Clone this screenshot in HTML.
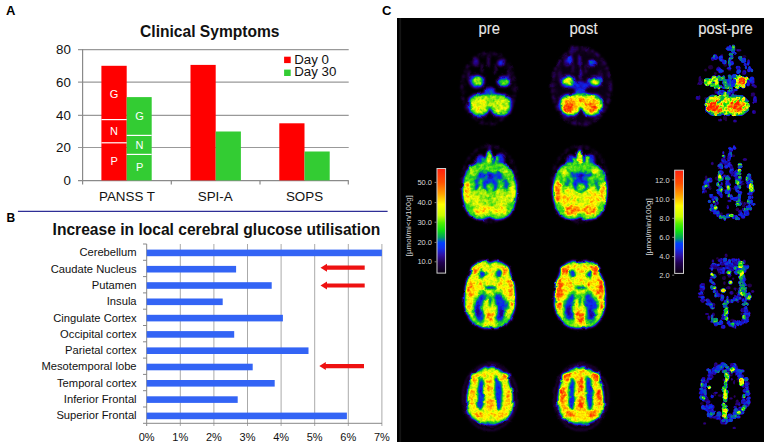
<!DOCTYPE html>
<html><head><meta charset="utf-8">
<style>
html,body{margin:0;padding:0;background:#fff;}
body{width:767px;height:445px;overflow:hidden;position:relative;}
svg{display:block;position:absolute;left:0;top:0;}
text{font-family:"Liberation Sans",Arial,sans-serif;}
</style></head><body>
<svg width="767" height="445" viewBox="0 0 767 445">
<rect x="0" y="0" width="767" height="445" fill="#fff"/>
<!-- ============ PANEL A ============ -->
<g id="panelA">
<text x="6" y="15.2" font-size="13" font-weight="bold" fill="#000">A</text>
<text x="209.8" y="36.6" font-size="15.6" font-weight="bold" fill="#111" text-anchor="middle">Clinical Symptoms</text>
<g stroke="#999" stroke-width="1.2">
<line x1="78" y1="49.6" x2="348.7" y2="49.6"/>
<line x1="78" y1="82.2" x2="348.7" y2="82.2"/>
<line x1="78" y1="115.3" x2="348.7" y2="115.3"/>
<line x1="78" y1="147.5" x2="348.7" y2="147.5"/>
</g>
<g stroke="#8a8a8a" stroke-width="1.2">
<line x1="78" y1="180.6" x2="348.7" y2="180.6"/>
<line x1="82.6" y1="49" x2="82.6" y2="184.5"/>
<line x1="171.3" y1="180.6" x2="171.3" y2="184.5"/>
<line x1="260" y1="180.6" x2="260" y2="184.5"/>
<line x1="348.3" y1="180.6" x2="348.3" y2="184.5"/>
</g>
<g font-size="13.3" fill="#111" text-anchor="end">
<text x="70.8" y="54.2">80</text>
<text x="70.8" y="87">60</text>
<text x="70.8" y="119.8">40</text>
<text x="70.8" y="152">20</text>
<text x="70.8" y="184.8">0</text>
</g>
<!-- bars -->
<rect x="101.4" y="65.8" width="25.3" height="114.6" fill="#ff0000"/>
<rect x="126.7" y="97.1" width="25" height="83.3" fill="#33cc33"/>
<rect x="190.5" y="64.9" width="25.2" height="115.5" fill="#ff0000"/>
<rect x="215.7" y="131.5" width="25.2" height="48.9" fill="#33cc33"/>
<rect x="279.3" y="123.3" width="25.2" height="57.1" fill="#ff0000"/>
<rect x="304.5" y="151.5" width="25.2" height="28.9" fill="#33cc33"/>
<g stroke="#fff" stroke-width="1.2">
<line x1="101.4" y1="119.6" x2="126.7" y2="119.6"/>
<line x1="101.4" y1="142.8" x2="126.7" y2="142.8"/>
<line x1="126.7" y1="135.4" x2="151.7" y2="135.4"/>
<line x1="126.7" y1="154.4" x2="151.7" y2="154.4"/>
</g>
<g font-size="11" fill="#fff" text-anchor="middle">
<text x="114.1" y="98.3">G</text>
<text x="114.1" y="135">N</text>
<text x="114.1" y="165.3">P</text>
<text x="139.6" y="120.4">G</text>
<text x="139.6" y="148.7">N</text>
<text x="139.6" y="171.2">P</text>
</g>
<!-- legend -->
<rect x="284.1" y="56.7" width="6.6" height="6.4" fill="#ff0000"/>
<rect x="284.1" y="69.6" width="6.6" height="6.4" fill="#33cc33"/>
<g font-size="13.3" fill="#111">
<text x="294.2" y="63.6">Day 0</text>
<text x="294.2" y="76.3">Day 30</text>
</g>
<g font-size="13.4" fill="#111" text-anchor="middle">
<text x="127" y="201">PANSS T</text>
<text x="215.2" y="201">SPI-A</text>
<text x="304.5" y="201">SOPS</text>
</g>
</g>
<!-- ============ PANEL B ============ -->
<g id="panelB">
<line x1="17.9" y1="211.3" x2="387.6" y2="211.3" stroke="#2e2e96" stroke-width="1.2"/>
<text x="6.6" y="222.3" font-size="12" font-weight="bold" fill="#000">B</text>
<text x="216.4" y="234.6" font-size="15.6" font-weight="bold" fill="#111" text-anchor="middle">Increase in local cerebral glucose utilisation</text>
<g stroke="#aaa" stroke-width="1">
<line x1="180.3" y1="244" x2="180.3" y2="426"/>
<line x1="213.9" y1="244" x2="213.9" y2="426"/>
<line x1="247.5" y1="244" x2="247.5" y2="426"/>
<line x1="281.1" y1="244" x2="281.1" y2="426"/>
<line x1="314.7" y1="244" x2="314.7" y2="426"/>
<line x1="348.3" y1="244" x2="348.3" y2="426"/>
<line x1="381.9" y1="244" x2="381.9" y2="426"/>
</g>
<g stroke="#888" stroke-width="1">
<line x1="146.7" y1="244" x2="146.7" y2="426"/>
<line x1="146.7" y1="423.3" x2="382" y2="423.3"/>
<line x1="143" y1="244" x2="146.7" y2="244"/>
<line x1="143" y1="260.3" x2="146.7" y2="260.3"/>
<line x1="143" y1="276.6" x2="146.7" y2="276.6"/>
<line x1="143" y1="292.9" x2="146.7" y2="292.9"/>
<line x1="143" y1="309.2" x2="146.7" y2="309.2"/>
<line x1="143" y1="325.5" x2="146.7" y2="325.5"/>
<line x1="143" y1="341.8" x2="146.7" y2="341.8"/>
<line x1="143" y1="358.1" x2="146.7" y2="358.1"/>
<line x1="143" y1="374.4" x2="146.7" y2="374.4"/>
<line x1="143" y1="390.7" x2="146.7" y2="390.7"/>
<line x1="143" y1="407" x2="146.7" y2="407"/>
<line x1="143" y1="423.3" x2="146.7" y2="423.3"/>
</g>
<g fill="#3364f5">
<rect x="146.7" y="249.6" width="235.2" height="6.6"/>
<rect x="146.7" y="265.9" width="89.4" height="6.6"/>
<rect x="146.7" y="282.2" width="125" height="6.6"/>
<rect x="146.7" y="298.5" width="76" height="6.6"/>
<rect x="146.7" y="314.8" width="136.2" height="6.6"/>
<rect x="146.7" y="331.1" width="87.5" height="6.6"/>
<rect x="146.7" y="347.4" width="161.8" height="6.6"/>
<rect x="146.7" y="363.7" width="106" height="6.6"/>
<rect x="146.7" y="380" width="128" height="6.6"/>
<rect x="146.7" y="396.3" width="91" height="6.6"/>
<rect x="146.7" y="412.6" width="200.2" height="6.6"/>
</g>
<g font-size="11.2" fill="#111" text-anchor="end">
<text x="136.6" y="256.3">Cerebellum</text>
<text x="136.6" y="272.6">Caudate Nucleus</text>
<text x="136.6" y="288.9">Putamen</text>
<text x="136.6" y="305.2">Insula</text>
<text x="136.6" y="321.5">Cingulate Cortex</text>
<text x="136.6" y="337.8">Occipital cortex</text>
<text x="136.6" y="354.1">Parietal cortex</text>
<text x="136.6" y="370.4">Mesotemporal lobe</text>
<text x="136.6" y="386.7">Temporal cortex</text>
<text x="136.6" y="403.0">Inferior Frontal</text>
<text x="136.6" y="419.3">Superior Frontal</text>
</g>
<g font-size="11" fill="#111" text-anchor="middle">
<text x="146.7" y="441">0%</text>
<text x="180.3" y="441">1%</text>
<text x="213.9" y="441">2%</text>
<text x="247.5" y="441">3%</text>
<text x="281.1" y="441">4%</text>
<text x="314.7" y="441">5%</text>
<text x="348.3" y="441">6%</text>
<text x="381.9" y="441">7%</text>
</g>
<g fill="#ee1111">
<path d="M320.5,267.7 L327,263.7 L327,265.6 L364.7,265.6 L364.7,269.8 L327,269.8 L327,271.7 Z"/>
<path d="M320.5,285.5 L327,281.5 L327,283.4 L364.7,283.4 L364.7,287.6 L327,287.6 L327,289.5 Z"/>
<path d="M319.3,366.1 L325.8,362.1 L325.8,364 L364,364 L364,368.2 L325.8,368.2 L325.8,370.1 Z"/>
</g>
</g>
<!-- ============ PANEL C ============ -->
<g id="panelC">
<text x="382" y="15.2" font-size="13" font-weight="bold" fill="#000">C</text>
<rect x="397" y="18" width="367" height="424" fill="#000"/>
<rect x="399.3" y="18" width="1.8" height="424" fill="#141414"/>
</g>
<defs><filter id="pet" filterUnits="userSpaceOnUse" x="452" y="18" width="178" height="424" color-interpolation-filters="sRGB">
  <feGaussianBlur in="SourceGraphic" stdDeviation="0.95" result="b0"/>
  <feTurbulence type="fractalNoise" baseFrequency="0.12" numOctaves="2" seed="4" result="d"/>
  <feDisplacementMap in="b0" in2="d" scale="3" xChannelSelector="R" yChannelSelector="G" result="b"/>
  <feTurbulence type="fractalNoise" baseFrequency="0.3" numOctaves="2" seed="7" result="t"/>
  <feColorMatrix in="t" type="matrix" values="1 0 0 0 0  1 0 0 0 0  1 0 0 0 0  0 0 0 0 1" result="n"/>
  
  <feComposite in="b" in2="n" operator="arithmetic" k1="0.5" k2="0.75" k3="0" k4="0" result="m"/>
  <feComponentTransfer in="m">
    <feFuncR type="table" tableValues="0 0.12 0.15 0.05 0.0 0.15 0.65 1 1 1 1"/>
    <feFuncG type="table" tableValues="0 0 0 0.15 0.55 0.85 0.93 1 0.65 0.3 0.1"/>
    <feFuncB type="table" tableValues="0 0.22 0.55 0.95 0.45 0.1 0.05 0 0 0 0"/>
  </feComponentTransfer>
</filter><filter id="pet2" filterUnits="userSpaceOnUse" x="690" y="18" width="74" height="424" color-interpolation-filters="sRGB">
  <feGaussianBlur in="SourceGraphic" stdDeviation="0.6" result="b0"/>
  <feTurbulence type="fractalNoise" baseFrequency="0.12" numOctaves="2" seed="4" result="d"/>
  <feDisplacementMap in="b0" in2="d" scale="2" xChannelSelector="R" yChannelSelector="G" result="b"/>
  <feTurbulence type="fractalNoise" baseFrequency="0.33" numOctaves="2" seed="11" result="t"/>
  <feColorMatrix in="t" type="matrix" values="1 0 0 0 0  1 0 0 0 0  1 0 0 0 0  0 0 0 0 1" result="n0"/>
  <feComponentTransfer in="n0" result="n"><feFuncR type="linear" slope="2.0" intercept="-0.5"/></feComponentTransfer>
  <feComposite in="b" in2="n" operator="arithmetic" k1="0.7" k2="0.65" k3="0" k4="0" result="m"/>
  <feComponentTransfer in="m">
    <feFuncR type="table" tableValues="0 0.12 0.15 0.05 0.0 0.15 0.65 1 1 1 1"/>
    <feFuncG type="table" tableValues="0 0 0 0.15 0.55 0.85 0.93 1 0.65 0.3 0.1"/>
    <feFuncB type="table" tableValues="0 0.22 0.55 0.95 0.45 0.1 0.05 0 0 0 0"/>
  </feComponentTransfer>
</filter></defs>
<g filter="url(#pet)">
<rect x="440" y="0" width="200" height="445" fill="#000"/>
<ellipse cx="488.5" cy="88.5" rx="26.5" ry="35.5" fill="none" stroke="#212121" stroke-width="2.6" stroke-dasharray="4 2.5 2 2 5 3 1.5 1.5"/>
<ellipse cx="488.5" cy="88.5" rx="23.5" ry="32.5" fill="none" stroke="#1a1a1a" stroke-width="1.2" stroke-dasharray="2 5 3 4 1 6"/>
<ellipse cx="476.0" cy="62" rx="3" ry="4.5" fill="#333333"/>
<ellipse cx="501.0" cy="63" rx="4" ry="3.5" fill="#454545"/>
<ellipse cx="488.5" cy="61" rx="1.5" ry="7" fill="#292929"/>
<ellipse cx="469.0" cy="76" rx="2" ry="6" fill="#212121"/>
<ellipse cx="509.0" cy="76" rx="2" ry="6" fill="#212121"/>
<ellipse cx="482.0" cy="68" rx="1.2" ry="5" fill="#262626"/>
<ellipse cx="495.0" cy="69" rx="1.2" ry="5" fill="#262626"/>
<ellipse cx="477.0" cy="81.5" rx="8" ry="7" fill="#4c4c4c"/>
<ellipse cx="504.0" cy="81.5" rx="7.5" ry="6" fill="#4c4c4c"/>
<ellipse cx="477.5" cy="81" rx="5" ry="4.2" fill="#999999"/>
<ellipse cx="504.0" cy="82" rx="4.5" ry="3.2" fill="#8c8c8c"/>
<ellipse cx="489.5" cy="90.5" rx="5.5" ry="3.5" fill="#4c4c4c"/>
<path d="M471.50,95.50 C475.67,92.60 474.33,94.47 480.50,93.30 C486.67,92.13 483.67,92.00 490.00,92.00 C496.33,92.00 493.33,92.13 499.50,93.30 C505.67,94.47 504.33,92.60 508.50,95.50 C512.67,98.40 511.00,97.33 512.00,102.00 C513.00,106.67 513.00,105.17 511.50,109.50 C510.00,113.83 511.50,112.57 507.50,115.00 C503.50,117.43 504.33,116.97 499.50,116.80 C494.67,116.63 496.17,116.77 493.00,114.50 C489.83,112.23 492.00,110.00 490.00,110.00 C488.00,110.00 490.17,112.23 487.00,114.50 C483.83,116.77 485.33,116.63 480.50,116.80 C475.67,116.97 476.50,117.43 472.50,115.00 C468.50,112.57 470.00,113.83 468.50,109.50 C467.00,105.17 467.00,106.67 468.00,102.00 C469.00,97.33 467.33,98.40 471.50,95.50 Z" fill="#525252"/>
<path d="M473.50,97.50 C477.00,95.17 475.50,96.50 481.00,95.50 C486.50,94.50 484.00,94.50 490.00,94.50 C496.00,94.50 493.50,94.50 499.00,95.50 C504.50,96.50 503.00,95.17 506.50,97.50 C510.00,99.83 508.63,98.67 509.50,102.50 C510.37,106.33 510.27,105.50 509.10,109.00 C507.93,112.50 509.20,111.17 506.00,113.00 C502.80,114.83 503.50,114.67 499.50,114.50 C495.50,114.33 497.17,114.83 494.00,112.50 C490.83,110.17 492.67,107.50 490.00,107.50 C487.33,107.50 489.17,110.17 486.00,112.50 C482.83,114.83 484.50,114.33 480.50,114.50 C476.50,114.67 477.20,114.83 474.00,113.00 C470.80,111.17 472.07,112.50 470.90,109.00 C469.73,105.50 469.63,106.33 470.50,102.50 C471.37,98.67 470.00,99.83 473.50,97.50 Z" fill="#999999"/>
<ellipse cx="478.5" cy="105.5" rx="7" ry="7" fill="#a8a8a8"/>
<ellipse cx="476.0" cy="107" rx="3.5" ry="4" fill="#adadad"/>
<ellipse cx="501.0" cy="106" rx="6" ry="6" fill="#a1a1a1"/>
<ellipse cx="490.0" cy="97.5" rx="3" ry="2.5" fill="#8c8c8c"/>
<ellipse cx="490.0" cy="96" rx="2" ry="1.5" fill="#808080"/>
<ellipse cx="581.5" cy="86.5" rx="27" ry="36" fill="#090909"/>
<ellipse cx="581.5" cy="86.5" rx="29" ry="38" fill="none" stroke="#2b2b2b" stroke-width="3" stroke-dasharray="5 2 3 1.5 6 2.5 2 1"/>
<ellipse cx="581.5" cy="86.5" rx="26" ry="35" fill="none" stroke="#1f1f1f" stroke-width="1.5" stroke-dasharray="2 4 3 3 1 5"/>
<ellipse cx="572.0" cy="49.5" rx="1.2" ry="4" fill="#333333"/>
<ellipse cx="567.0" cy="62" rx="3" ry="4.5" fill="#333333"/>
<ellipse cx="592.0" cy="63" rx="4" ry="3.5" fill="#545454"/>
<ellipse cx="579.5" cy="61" rx="1.5" ry="7" fill="#424242"/>
<ellipse cx="560.0" cy="76" rx="2" ry="6" fill="#212121"/>
<ellipse cx="600.0" cy="76" rx="2" ry="6" fill="#212121"/>
<ellipse cx="573.0" cy="68" rx="1.2" ry="5" fill="#262626"/>
<ellipse cx="586.0" cy="69" rx="1.2" ry="5" fill="#262626"/>
<ellipse cx="570.0" cy="60" rx="3" ry="5" fill="#4c4c4c"/>
<ellipse cx="580.5" cy="86" rx="9" ry="5" fill="#454545"/>
<ellipse cx="580.5" cy="74" rx="1.8" ry="6" fill="#424242"/>
<ellipse cx="568.0" cy="81.5" rx="8" ry="7" fill="#4c4c4c"/>
<ellipse cx="595.0" cy="81.5" rx="7.5" ry="6" fill="#4c4c4c"/>
<ellipse cx="568.5" cy="81" rx="5" ry="4.2" fill="#a3a3a3"/>
<ellipse cx="595.0" cy="82" rx="4.5" ry="3.2" fill="#9e9e9e"/>
<ellipse cx="569.0" cy="80.5" rx="2.2" ry="2" fill="#b2b2b2"/>
<ellipse cx="596.0" cy="82" rx="1.8" ry="1.5" fill="#c7c7c7"/>
<ellipse cx="580.5" cy="90.5" rx="5.5" ry="3.5" fill="#4c4c4c"/>
<path d="M562.50,95.50 C566.67,92.60 565.33,94.47 571.50,93.30 C577.67,92.13 574.67,92.00 581.00,92.00 C587.33,92.00 584.33,92.13 590.50,93.30 C596.67,94.47 595.33,92.60 599.50,95.50 C603.67,98.40 602.00,97.33 603.00,102.00 C604.00,106.67 604.00,105.17 602.50,109.50 C601.00,113.83 602.50,112.57 598.50,115.00 C594.50,117.43 595.33,116.97 590.50,116.80 C585.67,116.63 587.17,116.77 584.00,114.50 C580.83,112.23 583.00,110.00 581.00,110.00 C579.00,110.00 581.17,112.23 578.00,114.50 C574.83,116.77 576.33,116.63 571.50,116.80 C566.67,116.97 567.50,117.43 563.50,115.00 C559.50,112.57 561.00,113.83 559.50,109.50 C558.00,105.17 558.00,106.67 559.00,102.00 C560.00,97.33 558.33,98.40 562.50,95.50 Z" fill="#525252"/>
<path d="M564.50,97.50 C568.00,95.17 566.50,96.50 572.00,95.50 C577.50,94.50 575.00,94.50 581.00,94.50 C587.00,94.50 584.50,94.50 590.00,95.50 C595.50,96.50 594.00,95.17 597.50,97.50 C601.00,99.83 599.63,98.67 600.50,102.50 C601.37,106.33 601.27,105.50 600.10,109.00 C598.93,112.50 600.20,111.17 597.00,113.00 C593.80,114.83 594.50,114.67 590.50,114.50 C586.50,114.33 588.17,114.83 585.00,112.50 C581.83,110.17 583.67,107.50 581.00,107.50 C578.33,107.50 580.17,110.17 577.00,112.50 C573.83,114.83 575.50,114.33 571.50,114.50 C567.50,114.67 568.20,114.83 565.00,113.00 C561.80,111.17 563.07,112.50 561.90,109.00 C560.73,105.50 560.63,106.33 561.50,102.50 C562.37,98.67 561.00,99.83 564.50,97.50 Z" fill="#b2b2b2"/>
<ellipse cx="569.5" cy="106" rx="7.5" ry="7" fill="#d1d1d1"/>
<ellipse cx="568.0" cy="108" rx="4.5" ry="4.5" fill="#ebebeb"/>
<ellipse cx="591.5" cy="105.5" rx="6.5" ry="6.5" fill="#cccccc"/>
<ellipse cx="593.0" cy="108" rx="3.5" ry="3.5" fill="#e0e0e0"/>
<ellipse cx="581.0" cy="99" rx="3" ry="3" fill="#e0e0e0"/>
<ellipse cx="597.0" cy="99" rx="2.5" ry="2" fill="#999999"/>
<ellipse cx="581.0" cy="96" rx="2" ry="1.5" fill="#808080"/>
<ellipse cx="489.5" cy="184" rx="28" ry="38" fill="none" stroke="#1f1f1f" stroke-width="2.2" stroke-dasharray="4 2.5 2 2 5 3 1.5 1.5"/>
<ellipse cx="480.5" cy="161" rx="4.8" ry="6.5" fill="#4c4c4c"/>
<ellipse cx="499.5" cy="160" rx="5.2" ry="7" fill="#4c4c4c"/>
<ellipse cx="489.5" cy="149" rx="1.5" ry="3" fill="#333333"/>
<ellipse cx="489.3" cy="159" rx="3.4" ry="8.5" fill="#a1a1a1"/>
<ellipse cx="496.2" cy="160.5" rx="2" ry="5.5" fill="#858585"/>
<ellipse cx="483.8" cy="162" rx="1.8" ry="4.5" fill="#808080"/>
<path d="M489.50,163.50 C494.50,163.50 491.83,162.87 497.00,163.20 C502.17,163.53 500.50,162.73 505.00,164.50 C509.50,166.27 507.50,165.00 510.50,168.50 C513.50,172.00 512.10,169.50 514.00,175.00 C515.90,180.50 515.37,178.33 516.20,185.00 C517.03,191.67 516.90,188.67 516.50,195.00 C516.10,201.33 516.50,198.50 515.00,204.00 C513.50,209.50 514.67,207.17 512.00,211.50 C509.33,215.83 511.33,214.30 507.00,217.00 C502.67,219.70 504.00,219.07 499.00,219.60 C494.00,220.13 495.17,219.37 492.00,218.60 C488.83,217.83 491.17,217.30 489.50,217.30 C487.83,217.30 490.17,217.83 487.00,218.60 C483.83,219.37 485.00,220.13 480.00,219.60 C475.00,219.07 476.33,219.70 472.00,217.00 C467.67,214.30 469.67,215.83 467.00,211.50 C464.33,207.17 465.50,209.50 464.00,204.00 C462.50,198.50 462.90,201.33 462.50,195.00 C462.10,188.67 461.97,191.67 462.80,185.00 C463.63,178.33 463.10,180.50 465.00,175.00 C466.90,169.50 465.50,172.00 468.50,168.50 C471.50,165.00 469.50,166.27 474.00,164.50 C478.50,162.73 476.83,163.53 482.00,163.20 C487.17,162.87 484.50,163.50 489.50,163.50 Z" fill="#858585"/>
<ellipse cx="489.5" cy="199" rx="21" ry="14" fill="#999999"/>
<ellipse cx="467.0" cy="192" rx="3.5" ry="11" fill="#bfbfbf"/>
<ellipse cx="512.5" cy="192" rx="3.2" ry="10" fill="#b2b2b2"/>
<ellipse cx="482.0" cy="210.5" rx="8.5" ry="5" fill="#b8b8b8"/>
<ellipse cx="499.0" cy="210.5" rx="8.5" ry="5" fill="#b2b2b2"/>
<ellipse cx="475.0" cy="199" rx="5" ry="6" fill="#a6a6a6"/>
<ellipse cx="504.0" cy="199" rx="5" ry="6" fill="#a6a6a6"/>
<ellipse cx="490.0" cy="200" rx="3" ry="6" fill="#8f8f8f"/>
<ellipse cx="474.0" cy="172" rx="3" ry="3" fill="#999999"/>
<ellipse cx="505.0" cy="171" rx="3" ry="3" fill="#999999"/>
<ellipse cx="481.0" cy="175.5" rx="4.5" ry="3.5" fill="#4c4c4c"/>
<ellipse cx="490.0" cy="176" rx="4.5" ry="4" fill="#474747"/>
<ellipse cx="499.0" cy="175.5" rx="5" ry="3.5" fill="#4c4c4c"/>
<ellipse cx="490.0" cy="184" rx="8" ry="8.5" fill="#4c4c4c"/>
<ellipse cx="477.0" cy="184" rx="2.3" ry="6.5" fill="#4f4f4f" transform="rotate(10 477.0 184)"/>
<ellipse cx="506.0" cy="184.5" rx="2.3" ry="7" fill="#4f4f4f" transform="rotate(-10 506.0 184.5)"/>
<ellipse cx="490.0" cy="175.5" rx="2.5" ry="2.2" fill="#333333"/>
<ellipse cx="490.0" cy="187.5" rx="3.6" ry="4" fill="#8a8a8a"/>
<ellipse cx="485.0" cy="178" rx="1.3" ry="1.3" fill="#808080"/>
<ellipse cx="495.0" cy="178" rx="1.3" ry="1.3" fill="#808080"/>
<ellipse cx="580.0" cy="184" rx="28" ry="38" fill="none" stroke="#1f1f1f" stroke-width="2.2" stroke-dasharray="4 2.5 2 2 5 3 1.5 1.5"/>
<ellipse cx="571.0" cy="161" rx="4.8" ry="6.5" fill="#4c4c4c"/>
<ellipse cx="590.0" cy="160" rx="5.2" ry="7" fill="#4c4c4c"/>
<ellipse cx="580.0" cy="149" rx="1.5" ry="3" fill="#333333"/>
<ellipse cx="579.8" cy="159" rx="3.4" ry="8.5" fill="#b5b5b5"/>
<ellipse cx="586.7" cy="160.5" rx="2" ry="5.5" fill="#999999"/>
<ellipse cx="574.3" cy="162" rx="1.8" ry="4.5" fill="#949494"/>
<path d="M580.00,163.50 C585.00,163.50 582.33,162.87 587.50,163.20 C592.67,163.53 591.00,162.73 595.50,164.50 C600.00,166.27 598.00,165.00 601.00,168.50 C604.00,172.00 602.60,169.50 604.50,175.00 C606.40,180.50 605.87,178.33 606.70,185.00 C607.53,191.67 607.40,188.67 607.00,195.00 C606.60,201.33 607.00,198.50 605.50,204.00 C604.00,209.50 605.17,207.17 602.50,211.50 C599.83,215.83 601.83,214.30 597.50,217.00 C593.17,219.70 594.50,219.07 589.50,219.60 C584.50,220.13 585.67,219.37 582.50,218.60 C579.33,217.83 581.67,217.30 580.00,217.30 C578.33,217.30 580.67,217.83 577.50,218.60 C574.33,219.37 575.50,220.13 570.50,219.60 C565.50,219.07 566.83,219.70 562.50,217.00 C558.17,214.30 560.17,215.83 557.50,211.50 C554.83,207.17 556.00,209.50 554.50,204.00 C553.00,198.50 553.40,201.33 553.00,195.00 C552.60,188.67 552.47,191.67 553.30,185.00 C554.13,178.33 553.60,180.50 555.50,175.00 C557.40,169.50 556.00,172.00 559.00,168.50 C562.00,165.00 560.00,166.27 564.50,164.50 C569.00,162.73 567.33,163.53 572.50,163.20 C577.67,162.87 575.00,163.50 580.00,163.50 Z" fill="#858585"/>
<ellipse cx="580.0" cy="199" rx="21" ry="14" fill="#adadad"/>
<ellipse cx="557.5" cy="192" rx="3.5" ry="11" fill="#dadada"/>
<ellipse cx="603.0" cy="192" rx="3.2" ry="10" fill="#c7c7c7"/>
<ellipse cx="572.5" cy="210.5" rx="8.5" ry="5" fill="#d2d2d2"/>
<ellipse cx="589.5" cy="210.5" rx="8.5" ry="5" fill="#cdcdcd"/>
<ellipse cx="565.5" cy="199" rx="5" ry="6" fill="#bababa"/>
<ellipse cx="594.5" cy="199" rx="5" ry="6" fill="#bababa"/>
<ellipse cx="580.5" cy="200" rx="3" ry="6" fill="#a3a3a3"/>
<ellipse cx="564.5" cy="172" rx="3" ry="3" fill="#adadad"/>
<ellipse cx="595.5" cy="171" rx="3" ry="3" fill="#adadad"/>
<ellipse cx="573.5" cy="175" rx="3.5" ry="3" fill="#525252"/>
<ellipse cx="580.5" cy="176" rx="5" ry="4" fill="#474747"/>
<ellipse cx="588.0" cy="175" rx="4" ry="3" fill="#525252"/>
<ellipse cx="580.5" cy="183.5" rx="8" ry="9.5" fill="#4c4c4c"/>
<ellipse cx="567.5" cy="183" rx="1.8" ry="5" fill="#575757" transform="rotate(10 567.5 183)"/>
<ellipse cx="596.5" cy="184.5" rx="1.8" ry="5.5" fill="#575757" transform="rotate(-10 596.5 184.5)"/>
<ellipse cx="580.5" cy="175.5" rx="2.5" ry="2.2" fill="#333333"/>
<ellipse cx="580.5" cy="187.5" rx="3.6" ry="4" fill="#949494"/>
<ellipse cx="575.5" cy="178" rx="1.3" ry="1.3" fill="#808080"/>
<ellipse cx="585.5" cy="178" rx="1.3" ry="1.3" fill="#808080"/>
<path d="M490.00,262.60 C493.00,262.60 491.33,261.17 494.50,260.80 C497.67,260.43 496.17,260.43 499.50,261.50 C502.83,262.57 501.57,261.67 504.50,264.00 C507.43,266.33 506.07,264.83 508.30,268.50 C510.53,272.17 509.43,270.17 511.20,275.00 C512.97,279.83 512.27,277.67 513.60,283.00 C514.93,288.33 514.53,285.67 515.20,291.00 C515.87,296.33 515.73,293.33 515.60,299.00 C515.47,304.67 515.90,302.33 514.80,308.00 C513.70,313.67 514.73,311.00 512.30,316.00 C509.87,321.00 511.27,319.27 507.50,323.00 C503.73,326.73 506.83,325.33 501.00,327.20 C495.17,329.07 496.83,328.60 490.00,328.60 C483.17,328.60 486.17,329.07 480.50,327.20 C474.83,325.33 477.23,326.73 473.00,323.00 C468.77,319.27 470.47,321.00 467.80,316.00 C465.13,311.00 466.17,313.67 465.00,308.00 C463.83,302.33 464.37,304.67 464.30,299.00 C464.23,293.33 464.07,296.33 464.80,291.00 C465.53,285.67 465.13,288.33 466.50,283.00 C467.87,277.67 467.13,279.83 468.90,275.00 C470.67,270.17 469.60,272.17 471.80,268.50 C474.00,264.83 472.60,266.33 475.50,264.00 C478.40,261.67 477.17,262.57 480.50,261.50 C483.83,260.43 482.33,260.43 485.50,260.80 C488.67,261.17 487.00,262.60 490.00,262.60 Z" fill="#808080"/>
<path d="M490.00,265.00 C493.00,265.00 491.50,263.60 494.50,263.20 C497.50,262.80 496.03,262.80 499.00,263.80 C501.97,264.80 500.80,264.07 503.40,266.20 C506.00,268.33 504.80,266.93 506.80,270.20 C508.80,273.47 507.80,271.57 509.40,276.00 C511.00,280.43 510.40,278.50 511.60,283.50 C512.80,288.50 512.40,285.83 513.00,291.00 C513.60,296.17 513.53,293.50 513.40,299.00 C513.27,304.50 513.63,302.17 512.60,307.50 C511.57,312.83 512.57,310.50 510.30,315.00 C508.03,319.50 509.23,317.67 505.80,321.00 C502.37,324.33 505.27,323.23 500.00,325.00 C494.73,326.77 496.33,326.30 490.00,326.30 C483.67,326.30 486.17,326.77 481.00,325.00 C475.83,323.23 478.23,324.33 474.50,321.00 C470.77,317.67 472.17,319.50 469.80,315.00 C467.43,310.50 468.47,312.83 467.40,307.50 C466.33,302.17 466.73,304.50 466.60,299.00 C466.47,293.50 466.40,296.17 467.00,291.00 C467.60,285.83 467.20,288.50 468.40,283.50 C469.60,278.50 469.00,280.43 470.60,276.00 C472.20,271.57 471.20,273.47 473.20,270.20 C475.20,266.93 474.00,268.33 476.60,266.20 C479.20,264.07 478.03,264.80 481.00,263.80 C483.97,262.80 482.50,262.80 485.50,263.20 C488.50,263.60 487.00,265.00 490.00,265.00 Z" fill="#b0b0b0"/>
<ellipse cx="490" cy="265" rx="1.2" ry="3" fill="#8c8c8c"/>
<ellipse cx="475.5" cy="270" rx="4.5" ry="4.5" fill="#cccccc"/>
<ellipse cx="504.5" cy="270" rx="5" ry="4.5" fill="#cccccc"/>
<ellipse cx="469.5" cy="289" rx="3.5" ry="11" fill="#cccccc"/>
<ellipse cx="511" cy="289" rx="3.5" ry="10" fill="#cccccc"/>
<ellipse cx="482.5" cy="284.5" rx="2.5" ry="4.5" fill="#cccccc" transform="rotate(-40 482.5 284.5)"/>
<ellipse cx="497.5" cy="284.5" rx="2.5" ry="4.5" fill="#cccccc" transform="rotate(40 497.5 284.5)"/>
<ellipse cx="490" cy="317" rx="4" ry="5" fill="#cccccc"/>
<ellipse cx="468" cy="306" rx="2.5" ry="4" fill="#cccccc"/>
<ellipse cx="512" cy="306" rx="2.5" ry="4" fill="#cccccc"/>
<ellipse cx="490" cy="270" rx="3" ry="3" fill="#adadad"/>
<ellipse cx="482.6" cy="274" rx="3.2" ry="3.8" fill="#4c4c4c"/>
<ellipse cx="480.8" cy="271.5" rx="1.5" ry="2.8" fill="#4c4c4c" transform="rotate(30 480.8 271.5)"/>
<ellipse cx="498.6" cy="274" rx="3.2" ry="3.8" fill="#4c4c4c"/>
<ellipse cx="500.4" cy="271.5" rx="1.5" ry="2.8" fill="#4c4c4c" transform="rotate(-30 500.4 271.5)"/>
<path d="M480.5,277.5 Q483,284 486.5,289 M499.5,277.5 Q497,284 493.5,289" fill="none" stroke="#858585" stroke-width="2"/>
<ellipse cx="491" cy="287.7" rx="6" ry="2" fill="#4c4c4c"/>
<path d="M484.50,292.50 C486.00,293.67 486.33,293.17 486.00,296.00 C485.67,298.83 484.83,297.00 483.50,301.00 C482.17,305.00 482.00,303.33 482.00,308.00 C482.00,312.67 483.00,310.67 483.50,315.00 C484.00,319.33 484.67,318.33 483.50,321.00 C482.33,323.67 482.50,323.50 480.00,323.00 C477.50,322.50 478.00,323.50 476.00,319.50 C474.00,315.50 474.33,316.50 474.00,311.00 C473.67,305.50 473.50,307.83 475.00,303.00 C476.50,298.17 476.33,300.00 478.50,296.50 C480.67,293.00 479.50,293.83 481.50,292.50 C483.50,291.17 483.00,291.33 484.50,292.50 Z" fill="#808080" stroke="#808080" stroke-width="3.2"/>
<path d="M495.00,292.50 C496.73,290.67 496.67,291.00 499.50,292.50 C502.33,294.00 500.83,293.83 503.50,297.00 C506.17,300.17 505.83,298.67 507.50,302.00 C509.17,305.33 509.17,304.33 508.50,307.00 C507.83,309.67 506.50,307.00 505.50,310.00 C504.50,313.00 506.33,312.00 505.50,316.00 C504.67,320.00 505.33,319.67 503.00,322.00 C500.67,324.33 500.77,324.00 498.50,323.00 C496.23,322.00 496.70,322.67 496.20,319.00 C495.70,315.33 497.23,316.67 497.00,312.00 C496.77,307.33 496.40,309.67 495.50,305.00 C494.60,300.33 494.47,302.17 494.30,298.00 C494.13,293.83 493.27,294.33 495.00,292.50 Z" fill="#808080" stroke="#808080" stroke-width="3.2"/>
<path d="M483.96,294.47 C485.25,295.48 485.54,295.05 485.25,297.48 C484.97,299.92 484.25,298.34 483.10,301.78 C481.96,305.22 481.81,303.79 481.81,307.80 C481.81,311.81 482.67,310.09 483.10,313.82 C483.53,317.55 484.11,316.69 483.10,318.98 C482.10,321.28 482.24,321.13 480.09,320.70 C477.94,320.27 478.37,321.13 476.65,317.69 C474.93,314.25 475.22,315.11 474.93,310.38 C474.65,305.65 474.50,307.66 475.79,303.50 C477.08,299.35 476.94,300.92 478.80,297.91 C480.67,294.90 479.66,295.62 481.38,294.47 C483.10,293.33 482.67,293.47 483.96,294.47 Z" fill="#4c4c4c"/>
<path d="M495.80,294.58 C497.29,293.01 497.24,293.29 499.67,294.58 C502.11,295.87 500.82,295.73 503.11,298.45 C505.41,301.18 505.12,299.89 506.55,302.75 C507.99,305.62 507.99,304.76 507.41,307.05 C506.84,309.35 505.69,307.05 504.83,309.63 C503.97,312.21 505.55,311.35 504.83,314.79 C504.12,318.23 504.69,317.95 502.68,319.95 C500.68,321.96 500.76,321.67 498.81,320.81 C496.86,319.95 497.26,320.53 496.83,317.37 C496.40,314.22 497.72,315.37 497.52,311.35 C497.32,307.34 497.01,309.35 496.23,305.33 C495.46,301.32 495.34,302.90 495.20,299.31 C495.06,295.73 494.31,296.16 495.80,294.58 Z" fill="#4c4c4c"/>
<ellipse cx="478.5" cy="311" rx="2" ry="6" fill="#2e2e2e"/>
<ellipse cx="501.5" cy="313" rx="2" ry="5" fill="#2e2e2e"/>
<ellipse cx="490" cy="300.5" rx="2" ry="7.5" fill="#858585"/>
<ellipse cx="490" cy="300" rx="0.9" ry="6.5" fill="#4c4c4c"/>
<path d="M580.00,262.60 C583.00,262.60 581.33,261.17 584.50,260.80 C587.67,260.43 586.17,260.43 589.50,261.50 C592.83,262.57 591.57,261.67 594.50,264.00 C597.43,266.33 596.07,264.83 598.30,268.50 C600.53,272.17 599.43,270.17 601.20,275.00 C602.97,279.83 602.27,277.67 603.60,283.00 C604.93,288.33 604.53,285.67 605.20,291.00 C605.87,296.33 605.73,293.33 605.60,299.00 C605.47,304.67 605.90,302.33 604.80,308.00 C603.70,313.67 604.73,311.00 602.30,316.00 C599.87,321.00 601.27,319.27 597.50,323.00 C593.73,326.73 596.83,325.33 591.00,327.20 C585.17,329.07 586.83,328.60 580.00,328.60 C573.17,328.60 576.17,329.07 570.50,327.20 C564.83,325.33 567.23,326.73 563.00,323.00 C558.77,319.27 560.47,321.00 557.80,316.00 C555.13,311.00 556.17,313.67 555.00,308.00 C553.83,302.33 554.37,304.67 554.30,299.00 C554.23,293.33 554.07,296.33 554.80,291.00 C555.53,285.67 555.13,288.33 556.50,283.00 C557.87,277.67 557.13,279.83 558.90,275.00 C560.67,270.17 559.60,272.17 561.80,268.50 C564.00,264.83 562.60,266.33 565.50,264.00 C568.40,261.67 567.17,262.57 570.50,261.50 C573.83,260.43 572.33,260.43 575.50,260.80 C578.67,261.17 577.00,262.60 580.00,262.60 Z" fill="#808080"/>
<path d="M580.00,265.00 C583.00,265.00 581.50,263.60 584.50,263.20 C587.50,262.80 586.03,262.80 589.00,263.80 C591.97,264.80 590.80,264.07 593.40,266.20 C596.00,268.33 594.80,266.93 596.80,270.20 C598.80,273.47 597.80,271.57 599.40,276.00 C601.00,280.43 600.40,278.50 601.60,283.50 C602.80,288.50 602.40,285.83 603.00,291.00 C603.60,296.17 603.53,293.50 603.40,299.00 C603.27,304.50 603.63,302.17 602.60,307.50 C601.57,312.83 602.57,310.50 600.30,315.00 C598.03,319.50 599.23,317.67 595.80,321.00 C592.37,324.33 595.27,323.23 590.00,325.00 C584.73,326.77 586.33,326.30 580.00,326.30 C573.67,326.30 576.17,326.77 571.00,325.00 C565.83,323.23 568.23,324.33 564.50,321.00 C560.77,317.67 562.17,319.50 559.80,315.00 C557.43,310.50 558.47,312.83 557.40,307.50 C556.33,302.17 556.73,304.50 556.60,299.00 C556.47,293.50 556.40,296.17 557.00,291.00 C557.60,285.83 557.20,288.50 558.40,283.50 C559.60,278.50 559.00,280.43 560.60,276.00 C562.20,271.57 561.20,273.47 563.20,270.20 C565.20,266.93 564.00,268.33 566.60,266.20 C569.20,264.07 568.03,264.80 571.00,263.80 C573.97,262.80 572.50,262.80 575.50,263.20 C578.50,263.60 577.00,265.00 580.00,265.00 Z" fill="#b7b7b7"/>
<ellipse cx="580" cy="265" rx="1.2" ry="3" fill="#8c8c8c"/>
<ellipse cx="565.5" cy="270" rx="4.5" ry="4.5" fill="#dedede"/>
<ellipse cx="594.5" cy="270" rx="5" ry="4.5" fill="#dedede"/>
<ellipse cx="559.5" cy="289" rx="3.5" ry="11" fill="#dedede"/>
<ellipse cx="601" cy="289" rx="3.5" ry="10" fill="#dedede"/>
<ellipse cx="572.5" cy="284.5" rx="2.5" ry="4.5" fill="#dedede" transform="rotate(-40 572.5 284.5)"/>
<ellipse cx="587.5" cy="284.5" rx="2.5" ry="4.5" fill="#dedede" transform="rotate(40 587.5 284.5)"/>
<ellipse cx="580" cy="317" rx="4" ry="5" fill="#dedede"/>
<ellipse cx="558" cy="306" rx="2.5" ry="4" fill="#dedede"/>
<ellipse cx="602" cy="306" rx="2.5" ry="4" fill="#dedede"/>
<ellipse cx="563" cy="269" rx="2.5" ry="2.5" fill="#ebebeb"/>
<ellipse cx="597" cy="269" rx="2.5" ry="2.5" fill="#ebebeb"/>
<ellipse cx="558" cy="285" rx="2" ry="5" fill="#ebebeb"/>
<ellipse cx="602" cy="285" rx="2" ry="5" fill="#ebebeb"/>
<ellipse cx="580" cy="320" rx="2" ry="3" fill="#ebebeb"/>
<ellipse cx="580" cy="270" rx="3" ry="3" fill="#bfbfbf"/>
<ellipse cx="572.6" cy="274" rx="3.2" ry="3.8" fill="#4c4c4c"/>
<ellipse cx="570.8" cy="271.5" rx="1.5" ry="2.8" fill="#4c4c4c" transform="rotate(30 570.8 271.5)"/>
<ellipse cx="588.6" cy="274" rx="3.2" ry="3.8" fill="#4c4c4c"/>
<ellipse cx="590.4" cy="271.5" rx="1.5" ry="2.8" fill="#4c4c4c" transform="rotate(-30 590.4 271.5)"/>
<path d="M570.5,277.5 Q573,284 576.5,289 M589.5,277.5 Q587,284 583.5,289" fill="none" stroke="#858585" stroke-width="2"/>
<ellipse cx="581" cy="287.7" rx="6" ry="2" fill="#4c4c4c"/>
<path d="M574.50,292.50 C576.00,293.67 576.33,293.17 576.00,296.00 C575.67,298.83 574.83,297.00 573.50,301.00 C572.17,305.00 572.00,303.33 572.00,308.00 C572.00,312.67 573.00,310.67 573.50,315.00 C574.00,319.33 574.67,318.33 573.50,321.00 C572.33,323.67 572.50,323.50 570.00,323.00 C567.50,322.50 568.00,323.50 566.00,319.50 C564.00,315.50 564.33,316.50 564.00,311.00 C563.67,305.50 563.50,307.83 565.00,303.00 C566.50,298.17 566.33,300.00 568.50,296.50 C570.67,293.00 569.50,293.83 571.50,292.50 C573.50,291.17 573.00,291.33 574.50,292.50 Z" fill="#808080" stroke="#808080" stroke-width="3.2"/>
<path d="M585.00,292.50 C586.73,290.67 586.67,291.00 589.50,292.50 C592.33,294.00 590.83,293.83 593.50,297.00 C596.17,300.17 595.83,298.67 597.50,302.00 C599.17,305.33 599.17,304.33 598.50,307.00 C597.83,309.67 596.50,307.00 595.50,310.00 C594.50,313.00 596.33,312.00 595.50,316.00 C594.67,320.00 595.33,319.67 593.00,322.00 C590.67,324.33 590.77,324.00 588.50,323.00 C586.23,322.00 586.70,322.67 586.20,319.00 C585.70,315.33 587.23,316.67 587.00,312.00 C586.77,307.33 586.40,309.67 585.50,305.00 C584.60,300.33 584.47,302.17 584.30,298.00 C584.13,293.83 583.27,294.33 585.00,292.50 Z" fill="#808080" stroke="#808080" stroke-width="3.2"/>
<path d="M573.96,294.47 C575.25,295.48 575.54,295.05 575.25,297.48 C574.97,299.92 574.25,298.34 573.10,301.78 C571.96,305.22 571.81,303.79 571.81,307.80 C571.81,311.81 572.67,310.09 573.10,313.82 C573.53,317.55 574.11,316.69 573.10,318.98 C572.10,321.28 572.24,321.13 570.09,320.70 C567.94,320.27 568.37,321.13 566.65,317.69 C564.93,314.25 565.22,315.11 564.93,310.38 C564.65,305.65 564.50,307.66 565.79,303.50 C567.08,299.35 566.94,300.92 568.80,297.91 C570.67,294.90 569.66,295.62 571.38,294.47 C573.10,293.33 572.67,293.47 573.96,294.47 Z" fill="#4c4c4c"/>
<path d="M585.80,294.58 C587.29,293.01 587.24,293.29 589.67,294.58 C592.11,295.87 590.82,295.73 593.11,298.45 C595.41,301.18 595.12,299.89 596.55,302.75 C597.99,305.62 597.99,304.76 597.41,307.05 C596.84,309.35 595.69,307.05 594.83,309.63 C593.97,312.21 595.55,311.35 594.83,314.79 C594.12,318.23 594.69,317.95 592.68,319.95 C590.68,321.96 590.76,321.67 588.81,320.81 C586.86,319.95 587.26,320.53 586.83,317.37 C586.40,314.22 587.72,315.37 587.52,311.35 C587.32,307.34 587.01,309.35 586.23,305.33 C585.46,301.32 585.34,302.90 585.20,299.31 C585.06,295.73 584.31,296.16 585.80,294.58 Z" fill="#4c4c4c"/>
<ellipse cx="568.5" cy="311" rx="2" ry="6" fill="#2e2e2e"/>
<ellipse cx="591.5" cy="313" rx="2" ry="5" fill="#2e2e2e"/>
<ellipse cx="580" cy="300.5" rx="2" ry="7.5" fill="#858585"/>
<ellipse cx="580" cy="300" rx="0.9" ry="6.5" fill="#4c4c4c"/>
<ellipse cx="593.5" cy="311" rx="1.5" ry="1.5" fill="#9e9e9e"/>
<ellipse cx="490" cy="397" rx="27" ry="33" fill="none" stroke="#1f1f1f" stroke-width="2"/>
<ellipse cx="490" cy="423.2" rx="9" ry="2.8" fill="#4c4c4c"/>
<path d="M488.50,367.50 C490.50,367.40 489.17,366.03 492.00,366.20 C494.83,366.37 493.50,366.23 497.00,368.00 C500.50,369.77 499.17,368.50 502.50,371.50 C505.83,374.50 504.33,372.83 507.00,377.00 C509.67,381.17 508.63,379.00 510.50,384.00 C512.37,389.00 511.67,386.67 512.60,392.00 C513.53,397.33 513.17,394.67 513.30,400.00 C513.43,405.33 513.93,403.00 513.00,408.00 C512.07,413.00 513.17,410.83 510.50,415.00 C507.83,419.17 509.33,417.73 505.00,420.50 C500.67,423.27 502.33,422.27 497.50,423.30 C492.67,424.33 493.17,423.70 490.50,423.60 C487.83,423.50 492.33,423.10 489.50,423.00 C486.67,422.90 486.83,424.13 482.00,423.30 C477.17,422.47 479.17,423.27 475.00,420.50 C470.83,417.73 472.17,419.17 469.50,415.00 C466.83,410.83 468.00,413.00 467.00,408.00 C466.00,403.00 466.43,405.33 466.50,400.00 C466.57,394.67 466.37,397.33 467.20,392.00 C468.03,386.67 467.23,389.00 469.00,384.00 C470.77,379.00 469.83,381.17 472.50,377.00 C475.17,372.83 473.67,374.50 477.00,371.50 C480.33,368.50 479.50,369.67 482.50,368.00 C485.50,366.33 484.00,366.67 486.00,366.50 C488.00,366.33 486.50,367.60 488.50,367.50 Z" fill="#808080"/>
<path d="M488.50,370.00 C490.50,369.93 489.33,368.63 492.00,368.80 C494.67,368.97 493.43,368.83 496.50,370.50 C499.57,372.17 498.37,371.07 501.20,373.80 C504.03,376.53 502.67,374.97 505.00,378.70 C507.33,382.43 506.47,380.40 508.20,385.00 C509.93,389.60 509.30,387.50 510.20,392.50 C511.10,397.50 510.77,395.00 510.90,400.00 C511.03,405.00 511.43,402.97 510.60,407.50 C509.77,412.03 510.67,410.00 508.40,413.60 C506.13,417.20 507.43,415.90 503.80,418.30 C500.17,420.70 501.93,419.87 497.50,420.80 C493.07,421.73 493.17,421.20 490.50,421.10 C487.83,421.00 492.33,420.60 489.50,420.50 C486.67,420.40 486.50,421.53 482.00,420.80 C477.50,420.07 479.47,420.70 476.00,418.30 C472.53,415.90 473.80,417.20 471.60,413.60 C469.40,410.00 470.30,412.03 469.40,407.50 C468.50,402.97 468.83,405.00 468.90,400.00 C468.97,395.00 468.80,397.50 469.60,392.50 C470.40,387.50 469.67,389.60 471.30,385.00 C472.93,380.40 472.10,382.43 474.50,378.70 C476.90,374.97 475.50,376.53 478.50,373.80 C481.50,371.07 481.00,372.10 483.50,370.50 C486.00,368.90 484.33,369.17 486.00,369.00 C487.67,368.83 486.50,370.07 488.50,370.00 Z" fill="#b2b2b2"/>
<ellipse cx="475" cy="377" rx="4" ry="4" fill="#cccccc"/>
<ellipse cx="505" cy="377" rx="4" ry="4" fill="#cccccc"/>
<ellipse cx="471" cy="397" rx="2.5" ry="9" fill="#cccccc"/>
<ellipse cx="509" cy="397" rx="2.5" ry="8" fill="#cccccc"/>
<ellipse cx="490" cy="386" rx="3" ry="6" fill="#cccccc"/>
<ellipse cx="490" cy="404" rx="3" ry="6" fill="#cccccc"/>
<ellipse cx="478" cy="415" rx="5" ry="3" fill="#cccccc"/>
<ellipse cx="502" cy="415" rx="5" ry="3" fill="#cccccc"/>
<path d="M481.50,378.00 C483.03,377.83 482.70,378.50 483.60,381.50 C484.50,384.50 484.27,383.17 484.20,387.00 C484.13,390.83 483.33,389.00 483.40,393.00 C483.47,397.00 484.33,395.17 484.40,399.00 C484.47,402.83 484.53,401.00 483.60,404.50 C482.67,408.00 483.13,408.00 481.60,409.50 C480.07,411.00 480.47,411.17 479.00,409.00 C477.53,406.83 477.60,407.33 477.20,403.00 C476.80,398.67 477.73,400.67 477.80,396.00 C477.87,391.33 477.00,393.67 477.40,389.00 C477.80,384.33 477.63,385.67 479.00,382.00 C480.37,378.33 479.97,378.17 481.50,378.00 Z" fill="#4c4c4c"/>
<path d="M495.80,375.60 C496.97,375.53 496.63,375.50 498.30,377.80 C499.97,380.10 499.50,378.93 500.80,382.50 C502.10,386.07 501.60,384.33 502.20,388.50 C502.80,392.67 502.67,390.50 502.60,395.00 C502.53,399.50 502.60,397.33 502.00,402.00 C501.40,406.67 502.13,406.40 500.80,409.00 C499.47,411.60 499.60,411.47 498.00,409.80 C496.40,408.13 496.93,407.93 496.00,404.00 C495.07,400.07 495.60,402.33 495.20,398.00 C494.80,393.67 495.00,396.00 494.80,391.00 C494.60,386.00 494.60,387.33 494.60,383.00 C494.60,378.67 494.40,380.47 494.80,378.00 C495.20,375.53 494.63,375.67 495.80,375.60 Z" fill="#4c4c4c"/>
<ellipse cx="581" cy="397" rx="27" ry="33" fill="none" stroke="#1f1f1f" stroke-width="2"/>
<ellipse cx="581" cy="423.2" rx="9" ry="2.8" fill="#4c4c4c"/>
<path d="M579.50,367.50 C581.50,367.40 580.17,366.03 583.00,366.20 C585.83,366.37 584.50,366.23 588.00,368.00 C591.50,369.77 590.17,368.50 593.50,371.50 C596.83,374.50 595.33,372.83 598.00,377.00 C600.67,381.17 599.63,379.00 601.50,384.00 C603.37,389.00 602.67,386.67 603.60,392.00 C604.53,397.33 604.17,394.67 604.30,400.00 C604.43,405.33 604.93,403.00 604.00,408.00 C603.07,413.00 604.17,410.83 601.50,415.00 C598.83,419.17 600.33,417.73 596.00,420.50 C591.67,423.27 593.33,422.27 588.50,423.30 C583.67,424.33 584.17,423.70 581.50,423.60 C578.83,423.50 583.33,423.10 580.50,423.00 C577.67,422.90 577.83,424.13 573.00,423.30 C568.17,422.47 570.17,423.27 566.00,420.50 C561.83,417.73 563.17,419.17 560.50,415.00 C557.83,410.83 559.00,413.00 558.00,408.00 C557.00,403.00 557.43,405.33 557.50,400.00 C557.57,394.67 557.37,397.33 558.20,392.00 C559.03,386.67 558.23,389.00 560.00,384.00 C561.77,379.00 560.83,381.17 563.50,377.00 C566.17,372.83 564.67,374.50 568.00,371.50 C571.33,368.50 570.50,369.67 573.50,368.00 C576.50,366.33 575.00,366.67 577.00,366.50 C579.00,366.33 577.50,367.60 579.50,367.50 Z" fill="#808080"/>
<path d="M579.50,370.00 C581.50,369.93 580.33,368.63 583.00,368.80 C585.67,368.97 584.43,368.83 587.50,370.50 C590.57,372.17 589.37,371.07 592.20,373.80 C595.03,376.53 593.67,374.97 596.00,378.70 C598.33,382.43 597.47,380.40 599.20,385.00 C600.93,389.60 600.30,387.50 601.20,392.50 C602.10,397.50 601.77,395.00 601.90,400.00 C602.03,405.00 602.43,402.97 601.60,407.50 C600.77,412.03 601.67,410.00 599.40,413.60 C597.13,417.20 598.43,415.90 594.80,418.30 C591.17,420.70 592.93,419.87 588.50,420.80 C584.07,421.73 584.17,421.20 581.50,421.10 C578.83,421.00 583.33,420.60 580.50,420.50 C577.67,420.40 577.50,421.53 573.00,420.80 C568.50,420.07 570.47,420.70 567.00,418.30 C563.53,415.90 564.80,417.20 562.60,413.60 C560.40,410.00 561.30,412.03 560.40,407.50 C559.50,402.97 559.83,405.00 559.90,400.00 C559.97,395.00 559.80,397.50 560.60,392.50 C561.40,387.50 560.67,389.60 562.30,385.00 C563.93,380.40 563.10,382.43 565.50,378.70 C567.90,374.97 566.50,376.53 569.50,373.80 C572.50,371.07 572.00,372.10 574.50,370.50 C577.00,368.90 575.33,369.17 577.00,369.00 C578.67,368.83 577.50,370.07 579.50,370.00 Z" fill="#bababa"/>
<ellipse cx="566" cy="377" rx="4" ry="4" fill="#dedede"/>
<ellipse cx="596" cy="377" rx="4" ry="4" fill="#dedede"/>
<ellipse cx="562" cy="397" rx="2.5" ry="9" fill="#dedede"/>
<ellipse cx="600" cy="397" rx="2.5" ry="8" fill="#dedede"/>
<ellipse cx="581" cy="386" rx="3" ry="6" fill="#dedede"/>
<ellipse cx="581" cy="404" rx="3" ry="6" fill="#dedede"/>
<ellipse cx="569" cy="415" rx="5" ry="3" fill="#dedede"/>
<ellipse cx="593" cy="415" rx="5" ry="3" fill="#dedede"/>
<ellipse cx="581" cy="383" rx="2" ry="5" fill="#ebebeb"/>
<ellipse cx="581" cy="403" rx="2" ry="6" fill="#ebebeb"/>
<ellipse cx="563" cy="393" rx="2" ry="4" fill="#ebebeb"/>
<ellipse cx="599" cy="393" rx="2" ry="4" fill="#ebebeb"/>
<ellipse cx="568" cy="375" rx="2.5" ry="2.5" fill="#ebebeb"/>
<ellipse cx="594" cy="375" rx="2.5" ry="2.5" fill="#ebebeb"/>
<path d="M572.50,378.00 C574.03,377.83 573.70,378.50 574.60,381.50 C575.50,384.50 575.27,383.17 575.20,387.00 C575.13,390.83 574.33,389.00 574.40,393.00 C574.47,397.00 575.33,395.17 575.40,399.00 C575.47,402.83 575.53,401.00 574.60,404.50 C573.67,408.00 574.13,408.00 572.60,409.50 C571.07,411.00 571.47,411.17 570.00,409.00 C568.53,406.83 568.60,407.33 568.20,403.00 C567.80,398.67 568.73,400.67 568.80,396.00 C568.87,391.33 568.00,393.67 568.40,389.00 C568.80,384.33 568.63,385.67 570.00,382.00 C571.37,378.33 570.97,378.17 572.50,378.00 Z" fill="#4c4c4c"/>
<path d="M586.80,375.60 C587.97,375.53 587.63,375.50 589.30,377.80 C590.97,380.10 590.50,378.93 591.80,382.50 C593.10,386.07 592.60,384.33 593.20,388.50 C593.80,392.67 593.67,390.50 593.60,395.00 C593.53,399.50 593.60,397.33 593.00,402.00 C592.40,406.67 593.13,406.40 591.80,409.00 C590.47,411.60 590.60,411.47 589.00,409.80 C587.40,408.13 587.93,407.93 587.00,404.00 C586.07,400.07 586.60,402.33 586.20,398.00 C585.80,393.67 586.00,396.00 585.80,391.00 C585.60,386.00 585.60,387.33 585.60,383.00 C585.60,378.67 585.40,380.47 585.80,378.00 C586.20,375.53 585.63,375.67 586.80,375.60 Z" fill="#4c4c4c"/>
</g>
<g filter="url(#pet2)">
<rect x="680" y="0" width="87" height="445" fill="#000"/>
<ellipse cx="734.1" cy="102.4" rx="2.3" ry="2.6" fill="#343434"/>
<ellipse cx="725.0" cy="117.7" rx="2.1" ry="2.5" fill="#1e1e1e"/>
<ellipse cx="725.2" cy="64.7" rx="2.0" ry="2.0" fill="#1a1a1a"/>
<ellipse cx="710.6" cy="67.2" rx="2.5" ry="2.3" fill="#1f1f1f"/>
<ellipse cx="744.2" cy="56.5" rx="2.1" ry="1.4" fill="#1a1a1a"/>
<ellipse cx="748.5" cy="61.9" rx="1.5" ry="2.6" fill="#393939"/>
<ellipse cx="729.3" cy="97.5" rx="1.5" ry="2.6" fill="#323232"/>
<ellipse cx="715.3" cy="73.5" rx="1.4" ry="1.4" fill="#1c1c1c"/>
<ellipse cx="715.5" cy="91.8" rx="1.2" ry="2.2" fill="#252525"/>
<ellipse cx="716.0" cy="108.2" rx="1.9" ry="1.7" fill="#2b2b2b"/>
<ellipse cx="738.9" cy="50.3" rx="2.6" ry="1.2" fill="#343434"/>
<ellipse cx="743.7" cy="73.8" rx="2.0" ry="1.2" fill="#1b1b1b"/>
<ellipse cx="709.4" cy="103.4" rx="2.5" ry="2.6" fill="#262626"/>
<ellipse cx="718.6" cy="85.9" rx="2.3" ry="1.4" fill="#343434"/>
<ellipse cx="744.2" cy="111.3" rx="1.3" ry="2.6" fill="#1d1d1d"/>
<ellipse cx="717.8" cy="92.4" rx="2.5" ry="1.7" fill="#3a3a3a"/>
<ellipse cx="729.6" cy="69.7" rx="1.7" ry="1.5" fill="#1c1c1c"/>
<ellipse cx="706.6" cy="98.4" rx="2.6" ry="1.4" fill="#1b1b1b"/>
<ellipse cx="755.2" cy="86.5" rx="1.8" ry="1.5" fill="#2f2f2f"/>
<ellipse cx="745.9" cy="80.6" rx="1.8" ry="1.3" fill="#3a3a3a"/>
<ellipse cx="699.9" cy="83.5" rx="2.4" ry="1.4" fill="#343434"/>
<ellipse cx="753.1" cy="93.9" rx="2.3" ry="1.4" fill="#292929"/>
<ellipse cx="706.7" cy="110.2" rx="1.6" ry="1.9" fill="#3d3d3d"/>
<ellipse cx="724.3" cy="83.1" rx="2.3" ry="1.9" fill="#242424"/>
<ellipse cx="721.4" cy="57.1" rx="1.7" ry="2.6" fill="#3c3c3c"/>
<ellipse cx="734.4" cy="83.9" rx="1.7" ry="1.3" fill="#232323"/>
<ellipse cx="743.4" cy="111.9" rx="1.7" ry="2.3" fill="#353535"/>
<ellipse cx="738.3" cy="96.5" rx="2.3" ry="1.7" fill="#333333"/>
<ellipse cx="714.3" cy="82.9" rx="2.3" ry="2.2" fill="#242424"/>
<ellipse cx="752.8" cy="95.4" rx="2.0" ry="1.2" fill="#2d2d2d"/>
<ellipse cx="712.5" cy="97.0" rx="1.9" ry="2.4" fill="#313131"/>
<ellipse cx="744.3" cy="72.4" rx="2.1" ry="2.3" fill="#373737"/>
<ellipse cx="718.3" cy="110.1" rx="2.5" ry="2.2" fill="#3c3c3c"/>
<ellipse cx="753.5" cy="85.4" rx="2.0" ry="1.4" fill="#373737"/>
<ellipse cx="752.4" cy="82.3" rx="2.2" ry="2.2" fill="#343434"/>
<ellipse cx="708.0" cy="105.3" rx="2.0" ry="2.2" fill="#292929"/>
<ellipse cx="734.2" cy="104.9" rx="2.1" ry="2.2" fill="#1b1b1b"/>
<ellipse cx="707.3" cy="79.5" rx="2.1" ry="1.5" fill="#323232"/>
<ellipse cx="734.6" cy="49.2" rx="1.9" ry="1.5" fill="#1c1c1c"/>
<ellipse cx="705.7" cy="70.1" rx="1.5" ry="1.5" fill="#1b1b1b"/>
<ellipse cx="727.0" cy="48.4" rx="1.3" ry="1.4" fill="#636363"/>
<ellipse cx="728.1" cy="49.3" rx="1.3" ry="1.8" fill="#565656"/>
<ellipse cx="730.0" cy="46.3" rx="1.2" ry="2.4" fill="#545454"/>
<ellipse cx="728.6" cy="46.7" rx="2.4" ry="1.4" fill="#4c4c4c"/>
<ellipse cx="730.5" cy="49.4" rx="2.3" ry="1.6" fill="#4b4b4b"/>
<ellipse cx="733.2" cy="46.9" rx="2.1" ry="2.3" fill="#5f5f5f"/>
<ellipse cx="733.7" cy="50.0" rx="1.4" ry="2.0" fill="#4c4c4c"/>
<ellipse cx="733.1" cy="50.7" rx="2.0" ry="2.2" fill="#6c6c6c"/>
<ellipse cx="735.0" cy="53.3" rx="1.5" ry="1.4" fill="#5d5d5d"/>
<ellipse cx="733.4" cy="52.2" rx="1.4" ry="2.4" fill="#5c5c5c"/>
<ellipse cx="731.0" cy="54.5" rx="2.3" ry="2.0" fill="#6d6d6d"/>
<ellipse cx="731.8" cy="57.2" rx="1.7" ry="2.2" fill="#5b5b5b"/>
<ellipse cx="730.0" cy="59.0" rx="1.6" ry="2.1" fill="#676767"/>
<ellipse cx="731.1" cy="62.4" rx="1.5" ry="1.6" fill="#5d5d5d"/>
<ellipse cx="729.3" cy="61.4" rx="1.3" ry="2.1" fill="#606060"/>
<ellipse cx="731.7" cy="63.2" rx="2.2" ry="2.4" fill="#515151"/>
<ellipse cx="729.7" cy="65.6" rx="1.2" ry="1.3" fill="#686868"/>
<ellipse cx="729.1" cy="68.3" rx="2.2" ry="1.5" fill="#4a4a4a"/>
<ellipse cx="712.7" cy="58.8" rx="1.8" ry="2.1" fill="#414141"/>
<ellipse cx="715.6" cy="57.8" rx="2.4" ry="2.3" fill="#4b4b4b"/>
<ellipse cx="714.9" cy="56.5" rx="2.1" ry="2.3" fill="#5d5d5d"/>
<ellipse cx="716.1" cy="57.0" rx="1.3" ry="2.4" fill="#424242"/>
<ellipse cx="716.4" cy="57.2" rx="1.2" ry="1.6" fill="#434343"/>
<ellipse cx="720.5" cy="57.9" rx="2.2" ry="2.1" fill="#535353"/>
<ellipse cx="720.7" cy="59.9" rx="1.4" ry="1.6" fill="#474747"/>
<ellipse cx="722.3" cy="60.0" rx="1.2" ry="1.8" fill="#5c5c5c"/>
<ellipse cx="722.0" cy="59.4" rx="1.2" ry="2.0" fill="#3f3f3f"/>
<ellipse cx="721.7" cy="60.4" rx="1.2" ry="1.1" fill="#626262"/>
<ellipse cx="724.4" cy="62.1" rx="2.4" ry="2.3" fill="#555555"/>
<ellipse cx="723.6" cy="61.7" rx="1.6" ry="2.1" fill="#454545"/>
<ellipse cx="740.9" cy="57.7" rx="1.5" ry="2.0" fill="#646464"/>
<ellipse cx="739.9" cy="57.8" rx="2.0" ry="1.8" fill="#676767"/>
<ellipse cx="741.7" cy="59.7" rx="2.0" ry="1.5" fill="#4b4b4b"/>
<ellipse cx="740.9" cy="59.1" rx="2.1" ry="1.7" fill="#626262"/>
<ellipse cx="743.7" cy="60.2" rx="1.3" ry="1.2" fill="#686868"/>
<ellipse cx="743.1" cy="61.8" rx="2.1" ry="1.3" fill="#4b4b4b"/>
<ellipse cx="744.1" cy="59.0" rx="1.8" ry="1.5" fill="#4e4e4e"/>
<ellipse cx="743.9" cy="60.1" rx="2.3" ry="2.1" fill="#555555"/>
<ellipse cx="744.6" cy="61.4" rx="1.6" ry="1.2" fill="#494949"/>
<ellipse cx="745.2" cy="64.5" rx="1.7" ry="1.8" fill="#4d4d4d"/>
<ellipse cx="748.1" cy="64.1" rx="1.2" ry="1.8" fill="#4e4e4e"/>
<ellipse cx="745.9" cy="67.4" rx="1.1" ry="1.9" fill="#505050"/>
<ellipse cx="749.5" cy="67.7" rx="1.3" ry="1.8" fill="#585858"/>
<ellipse cx="750.5" cy="69.5" rx="1.7" ry="1.8" fill="#484848"/>
<ellipse cx="752.0" cy="70.5" rx="1.2" ry="1.7" fill="#606060"/>
<ellipse cx="749.1" cy="70.3" rx="2.1" ry="2.0" fill="#4a4a4a"/>
<ellipse cx="718.5" cy="69.3" rx="2.3" ry="2.3" fill="#424242"/>
<ellipse cx="718.6" cy="68.3" rx="1.3" ry="1.8" fill="#3c3c3c"/>
<ellipse cx="719.8" cy="70.3" rx="2.1" ry="1.2" fill="#3a3a3a"/>
<ellipse cx="720.2" cy="71.0" rx="2.2" ry="2.4" fill="#494949"/>
<ellipse cx="719.9" cy="70.0" rx="1.4" ry="1.8" fill="#494949"/>
<ellipse cx="720.8" cy="70.9" rx="1.5" ry="2.2" fill="#484848"/>
<ellipse cx="722.6" cy="71.1" rx="1.3" ry="1.5" fill="#525252"/>
<ellipse cx="738.0" cy="67.2" rx="2.3" ry="1.5" fill="#535353"/>
<ellipse cx="738.4" cy="68.1" rx="2.4" ry="1.5" fill="#424242"/>
<ellipse cx="738.3" cy="68.9" rx="1.6" ry="2.4" fill="#383838"/>
<ellipse cx="738.1" cy="67.6" rx="2.0" ry="1.2" fill="#3f3f3f"/>
<ellipse cx="737.9" cy="68.8" rx="1.2" ry="2.3" fill="#3a3a3a"/>
<ellipse cx="738.1" cy="71.9" rx="1.9" ry="2.2" fill="#535353"/>
<ellipse cx="739.5" cy="71.2" rx="1.5" ry="1.9" fill="#535353"/>
<ellipse cx="733" cy="47.5" rx="1.5" ry="1.5" fill="#737373"/>
<ellipse cx="729.5" cy="64" rx="1.4" ry="1.4" fill="#6b6b6b"/>
<ellipse cx="722.5" cy="78.5" rx="2.5" ry="2.1" fill="#757575"/>
<ellipse cx="736.7" cy="82.7" rx="2.3" ry="2.0" fill="#9d9d9d"/>
<ellipse cx="740.9" cy="84.1" rx="1.9" ry="1.5" fill="#c0c0c0"/>
<ellipse cx="711.9" cy="84.9" rx="2.2" ry="2.1" fill="#757575"/>
<ellipse cx="743.7" cy="78.3" rx="2.3" ry="1.5" fill="#b7b7b7"/>
<ellipse cx="735.8" cy="77.1" rx="2.2" ry="2.6" fill="#c5c5c5"/>
<ellipse cx="707.5" cy="79.6" rx="2.1" ry="1.5" fill="#8e8e8e"/>
<ellipse cx="718.9" cy="77.4" rx="1.8" ry="2.2" fill="#919191"/>
<ellipse cx="727.7" cy="80.6" rx="1.5" ry="1.9" fill="#414141"/>
<ellipse cx="738.5" cy="81.0" rx="2.0" ry="2.4" fill="#b8b8b8"/>
<ellipse cx="735.1" cy="79.7" rx="1.4" ry="1.4" fill="#8a8a8a"/>
<ellipse cx="739.6" cy="76.9" rx="1.5" ry="2.5" fill="#b2b2b2"/>
<ellipse cx="735.2" cy="85.2" rx="1.8" ry="2.4" fill="#aeaeae"/>
<ellipse cx="725.1" cy="85.0" rx="1.8" ry="1.9" fill="#626262"/>
<ellipse cx="714.7" cy="84.4" rx="2.5" ry="1.7" fill="#7b7b7b"/>
<ellipse cx="747.5" cy="80.4" rx="2.3" ry="2.3" fill="#c3c3c3"/>
<ellipse cx="714.9" cy="77.6" rx="1.5" ry="2.2" fill="#6d6d6d"/>
<ellipse cx="731.1" cy="77.5" rx="1.6" ry="2.2" fill="#515151"/>
<ellipse cx="732.5" cy="84.8" rx="1.9" ry="2.6" fill="#5c5c5c"/>
<ellipse cx="706.4" cy="83.2" rx="2.1" ry="2.0" fill="#a0a0a0"/>
<ellipse cx="734.9" cy="77.8" rx="2.3" ry="1.4" fill="#656565"/>
<ellipse cx="728.5" cy="83.2" rx="2.2" ry="2.5" fill="#525252"/>
<ellipse cx="746.7" cy="79.5" rx="2.4" ry="2.1" fill="#8b8b8b"/>
<ellipse cx="743.2" cy="86.8" rx="2.1" ry="1.7" fill="#959595"/>
<ellipse cx="741.7" cy="84.5" rx="2.0" ry="2.1" fill="#929292"/>
<ellipse cx="715.7" cy="77.9" rx="1.4" ry="1.9" fill="#868686"/>
<ellipse cx="738.0" cy="84.7" rx="2.3" ry="1.6" fill="#828282"/>
<ellipse cx="741.9" cy="79.7" rx="1.5" ry="2.4" fill="#9c9c9c"/>
<ellipse cx="715.2" cy="86.8" rx="1.5" ry="2.2" fill="#888888"/>
<ellipse cx="729.4" cy="75.9" rx="1.7" ry="1.3" fill="#6a6a6a"/>
<ellipse cx="740.3" cy="85.0" rx="1.5" ry="2.0" fill="#9d9d9d"/>
<ellipse cx="732.0" cy="84.5" rx="2.0" ry="2.2" fill="#595959"/>
<ellipse cx="713.7" cy="77.8" rx="2.3" ry="2.3" fill="#868686"/>
<ellipse cx="744.3" cy="81.2" rx="1.4" ry="1.8" fill="#b6b6b6"/>
<ellipse cx="739.6" cy="80.3" rx="1.4" ry="1.8" fill="#bcbcbc"/>
<ellipse cx="721.1" cy="86.7" rx="1.5" ry="1.4" fill="#757575"/>
<ellipse cx="743.8" cy="79.6" rx="1.7" ry="2.4" fill="#c5c5c5"/>
<ellipse cx="736.8" cy="87.2" rx="2.6" ry="1.7" fill="#c5c5c5"/>
<ellipse cx="744.1" cy="85.6" rx="1.5" ry="2.5" fill="#9a9a9a"/>
<ellipse cx="726.7" cy="82.4" rx="1.9" ry="1.6" fill="#6d6d6d"/>
<ellipse cx="736.6" cy="82.4" rx="2.2" ry="2.5" fill="#949494"/>
<ellipse cx="716.3" cy="86.1" rx="2.0" ry="1.6" fill="#959595"/>
<ellipse cx="735.6" cy="79.2" rx="2.4" ry="1.7" fill="#939393"/>
<ellipse cx="723.6" cy="82.6" rx="1.3" ry="2.1" fill="#666666"/>
<ellipse cx="724.1" cy="87.8" rx="2.2" ry="1.3" fill="#575757"/>
<ellipse cx="714.3" cy="79.4" rx="1.5" ry="1.8" fill="#808080"/>
<ellipse cx="709.1" cy="82.9" rx="2.4" ry="2.1" fill="#a1a1a1"/>
<ellipse cx="734.2" cy="81.4" rx="2.5" ry="2.5" fill="#444444"/>
<ellipse cx="742.0" cy="84.5" rx="2.5" ry="2.6" fill="#bebebe"/>
<ellipse cx="748.6" cy="82.9" rx="1.9" ry="1.7" fill="#464646"/>
<ellipse cx="706.6" cy="83.5" rx="1.4" ry="2.5" fill="#8e8e8e"/>
<ellipse cx="729.7" cy="80.5" rx="1.8" ry="2.5" fill="#585858"/>
<ellipse cx="728.9" cy="82.1" rx="1.7" ry="1.5" fill="#636363"/>
<ellipse cx="717.4" cy="81.9" rx="2.0" ry="1.5" fill="#707070"/>
<ellipse cx="741.9" cy="79.0" rx="2.3" ry="2.5" fill="#bcbcbc"/>
<ellipse cx="711.8" cy="80.1" rx="1.9" ry="1.4" fill="#6c6c6c"/>
<ellipse cx="730.6" cy="87.6" rx="2.1" ry="1.4" fill="#686868"/>
<ellipse cx="718.8" cy="87.8" rx="1.5" ry="1.9" fill="#959595"/>
<ellipse cx="729.9" cy="78.8" rx="1.4" ry="2.0" fill="#4b4b4b"/>
<ellipse cx="724.1" cy="80.0" rx="1.8" ry="1.8" fill="#585858"/>
<ellipse cx="740.1" cy="77.4" rx="1.9" ry="1.7" fill="#878787"/>
<ellipse cx="726.9" cy="86.7" rx="2.4" ry="2.5" fill="#707070"/>
<ellipse cx="715.6" cy="80.0" rx="1.7" ry="1.6" fill="#717171"/>
<ellipse cx="716.0" cy="79.8" rx="2.0" ry="2.5" fill="#a0a0a0"/>
<ellipse cx="729.3" cy="85.2" rx="2.1" ry="2.5" fill="#626262"/>
<ellipse cx="732.3" cy="82.0" rx="1.4" ry="1.9" fill="#4b4b4b"/>
<ellipse cx="723.7" cy="77.2" rx="1.3" ry="1.9" fill="#707070"/>
<ellipse cx="716.3" cy="80.8" rx="2.6" ry="1.8" fill="#9a9a9a"/>
<ellipse cx="737.8" cy="87.1" rx="1.8" ry="1.9" fill="#969696"/>
<ellipse cx="743.5" cy="79.4" rx="1.5" ry="2.2" fill="#c4c4c4"/>
<ellipse cx="734.0" cy="75.9" rx="2.4" ry="1.8" fill="#505050"/>
<ellipse cx="707.6" cy="81.6" rx="1.9" ry="1.8" fill="#898989"/>
<ellipse cx="748.2" cy="84.2" rx="1.9" ry="2.3" fill="#464646"/>
<ellipse cx="716.0" cy="81.8" rx="1.4" ry="1.5" fill="#969696"/>
<ellipse cx="707.3" cy="84.2" rx="2.2" ry="2.1" fill="#989898"/>
<ellipse cx="706.5" cy="80.2" rx="1.7" ry="1.6" fill="#858585"/>
<ellipse cx="722.1" cy="78.5" rx="2.0" ry="1.3" fill="#6f6f6f"/>
<ellipse cx="724.9" cy="80.7" rx="2.2" ry="1.9" fill="#696969"/>
<ellipse cx="738.3" cy="83.8" rx="1.9" ry="1.8" fill="#cbcbcb"/>
<ellipse cx="729.6" cy="76.9" rx="1.5" ry="2.2" fill="#606060"/>
<ellipse cx="733.1" cy="84.4" rx="2.2" ry="2.5" fill="#494949"/>
<ellipse cx="712.2" cy="85.6" rx="2.6" ry="1.3" fill="#757575"/>
<ellipse cx="705.8" cy="80.7" rx="2.5" ry="2.5" fill="#6f6f6f"/>
<ellipse cx="716.9" cy="86.8" rx="2.4" ry="1.5" fill="#7f7f7f"/>
<ellipse cx="748.3" cy="81.3" rx="1.9" ry="1.3" fill="#3f3f3f"/>
<ellipse cx="706.7" cy="81.7" rx="2.6" ry="2.0" fill="#8d8d8d"/>
<ellipse cx="720.5" cy="78.9" rx="2.5" ry="2.2" fill="#6c6c6c"/>
<ellipse cx="717.2" cy="85.3" rx="2.1" ry="1.9" fill="#929292"/>
<ellipse cx="739.9" cy="77.9" rx="2.1" ry="2.5" fill="#a2a2a2"/>
<ellipse cx="728.2" cy="81.8" rx="1.4" ry="1.6" fill="#434343"/>
<ellipse cx="711" cy="80.5" rx="3" ry="2.2" fill="#9e9e9e"/>
<ellipse cx="717" cy="82.5" rx="2" ry="2" fill="#999999"/>
<ellipse cx="741.5" cy="81" rx="5.5" ry="4.5" fill="#b2b2b2"/>
<ellipse cx="742" cy="81" rx="3.2" ry="3.4" fill="#ededed"/>
<ellipse cx="746.5" cy="78" rx="1.5" ry="1.5" fill="#b8b8b8"/>
<ellipse cx="720.1" cy="92.4" rx="2.4" ry="2.2" fill="#636363"/>
<ellipse cx="720.5" cy="92.0" rx="1.7" ry="1.9" fill="#555555"/>
<ellipse cx="723.5" cy="92.9" rx="1.6" ry="2.2" fill="#646464"/>
<ellipse cx="722.7" cy="91.6" rx="2.2" ry="1.8" fill="#454545"/>
<ellipse cx="724.5" cy="92.9" rx="1.4" ry="1.9" fill="#4e4e4e"/>
<ellipse cx="725.3" cy="93.1" rx="1.7" ry="1.6" fill="#464646"/>
<ellipse cx="728.9" cy="93.4" rx="2.4" ry="1.9" fill="#474747"/>
<ellipse cx="729.4" cy="91.2" rx="2.5" ry="1.2" fill="#474747"/>
<ellipse cx="729.2" cy="90.3" rx="1.4" ry="1.6" fill="#666666"/>
<ellipse cx="731.9" cy="91.0" rx="1.4" ry="1.9" fill="#5d5d5d"/>
<ellipse cx="733.2" cy="91.8" rx="1.6" ry="1.3" fill="#434343"/>
<ellipse cx="735.5" cy="89.8" rx="2.3" ry="1.5" fill="#494949"/>
<ellipse cx="725" cy="93" rx="1.8" ry="1.5" fill="#808080"/>
<path d="M708.00,97.00 C712.17,93.67 711.67,95.17 718.00,95.00 C724.33,94.83 720.67,96.50 727.00,96.50 C733.33,96.50 730.67,94.50 737.00,95.00 C743.33,95.50 742.00,94.33 746.00,98.00 C750.00,101.67 749.00,101.00 749.00,106.00 C749.00,111.00 750.00,109.67 746.00,113.00 C742.00,116.33 743.33,115.67 737.00,116.00 C730.67,116.33 733.67,114.00 727.00,114.00 C720.33,114.00 723.33,116.33 717.00,116.00 C710.67,115.67 711.83,116.67 708.00,113.00 C704.17,109.33 705.50,110.33 705.50,105.00 C705.50,99.67 703.83,100.33 708.00,97.00 Z" fill="#666666"/>
<ellipse cx="732.9" cy="95.5" rx="1.6" ry="2.3" fill="#6b6b6b"/>
<ellipse cx="734.4" cy="113.7" rx="1.8" ry="1.3" fill="#919191"/>
<ellipse cx="715.2" cy="105.6" rx="1.6" ry="2.1" fill="#b4b4b4"/>
<ellipse cx="728.9" cy="99.6" rx="2.4" ry="1.3" fill="#aaaaaa"/>
<ellipse cx="739.8" cy="109.7" rx="1.5" ry="2.5" fill="#c8c8c8"/>
<ellipse cx="720.1" cy="96.9" rx="2.4" ry="2.1" fill="#5f5f5f"/>
<ellipse cx="739.9" cy="110.3" rx="2.6" ry="1.8" fill="#d5d5d5"/>
<ellipse cx="729.2" cy="112.4" rx="2.4" ry="2.1" fill="#acacac"/>
<ellipse cx="735.6" cy="96.0" rx="1.7" ry="1.4" fill="#686868"/>
<ellipse cx="715.8" cy="97.1" rx="2.1" ry="1.8" fill="#9b9b9b"/>
<ellipse cx="721.5" cy="99.4" rx="2.5" ry="2.1" fill="#6a6a6a"/>
<ellipse cx="731.6" cy="98.6" rx="1.5" ry="1.8" fill="#b1b1b1"/>
<ellipse cx="729.4" cy="109.4" rx="2.3" ry="1.6" fill="#b7b7b7"/>
<ellipse cx="717.2" cy="99.4" rx="2.4" ry="1.7" fill="#bcbcbc"/>
<ellipse cx="733.5" cy="103.3" rx="1.9" ry="1.6" fill="#ededed"/>
<ellipse cx="716.4" cy="106.8" rx="2.1" ry="2.5" fill="#c3c3c3"/>
<ellipse cx="722.8" cy="99.6" rx="2.0" ry="1.4" fill="#999999"/>
<ellipse cx="732.4" cy="111.6" rx="1.4" ry="1.8" fill="#cecece"/>
<ellipse cx="747.8" cy="106.1" rx="2.4" ry="1.3" fill="#bebebe"/>
<ellipse cx="736.3" cy="109.3" rx="1.6" ry="2.1" fill="#d5d5d5"/>
<ellipse cx="710.7" cy="104.1" rx="2.5" ry="2.4" fill="#cfcfcf"/>
<ellipse cx="717.1" cy="105.5" rx="2.5" ry="2.4" fill="#bebebe"/>
<ellipse cx="718.5" cy="108.4" rx="1.5" ry="2.3" fill="#d9d9d9"/>
<ellipse cx="728.7" cy="111.4" rx="1.3" ry="1.7" fill="#a7a7a7"/>
<ellipse cx="718.9" cy="96.2" rx="2.5" ry="1.4" fill="#919191"/>
<ellipse cx="726.4" cy="96.5" rx="2.3" ry="1.5" fill="#8a8a8a"/>
<ellipse cx="726.0" cy="106.5" rx="2.4" ry="1.9" fill="#9a9a9a"/>
<ellipse cx="714.9" cy="106.3" rx="1.6" ry="1.7" fill="#e1e1e1"/>
<ellipse cx="724.4" cy="105.9" rx="1.6" ry="1.7" fill="#929292"/>
<ellipse cx="730.7" cy="99.8" rx="1.4" ry="2.1" fill="#979797"/>
<ellipse cx="715.6" cy="114.0" rx="1.4" ry="1.6" fill="#b8b8b8"/>
<ellipse cx="734.1" cy="99.5" rx="2.5" ry="2.0" fill="#939393"/>
<ellipse cx="725.9" cy="111.5" rx="1.5" ry="1.4" fill="#8d8d8d"/>
<ellipse cx="724.1" cy="103.9" rx="2.2" ry="2.2" fill="#a4a4a4"/>
<ellipse cx="722.9" cy="102.1" rx="1.6" ry="1.5" fill="#b8b8b8"/>
<ellipse cx="724.8" cy="103.9" rx="1.6" ry="2.5" fill="#6b6b6b"/>
<ellipse cx="724.6" cy="113.1" rx="1.4" ry="2.6" fill="#7c7c7c"/>
<ellipse cx="713.0" cy="105.2" rx="1.8" ry="1.4" fill="#c0c0c0"/>
<ellipse cx="717.1" cy="111.5" rx="1.8" ry="2.5" fill="#d0d0d0"/>
<ellipse cx="747.8" cy="106.7" rx="1.5" ry="1.7" fill="#b1b1b1"/>
<ellipse cx="746.7" cy="107.2" rx="2.3" ry="1.4" fill="#a8a8a8"/>
<ellipse cx="730.5" cy="105.6" rx="1.5" ry="2.5" fill="#e9e9e9"/>
<ellipse cx="731.0" cy="109.2" rx="1.5" ry="2.5" fill="#c2c2c2"/>
<ellipse cx="716.3" cy="107.5" rx="1.8" ry="2.1" fill="#dadada"/>
<ellipse cx="728.0" cy="114.6" rx="2.2" ry="1.6" fill="#666666"/>
<ellipse cx="722.6" cy="109.1" rx="1.7" ry="2.3" fill="#9c9c9c"/>
<ellipse cx="709.0" cy="104.6" rx="2.6" ry="1.4" fill="#f2f2f2"/>
<ellipse cx="715.0" cy="100.6" rx="2.4" ry="2.4" fill="#eeeeee"/>
<ellipse cx="721.5" cy="98.3" rx="2.2" ry="2.1" fill="#8e8e8e"/>
<ellipse cx="718.6" cy="108.9" rx="1.5" ry="1.5" fill="#eeeeee"/>
<ellipse cx="710.5" cy="106.6" rx="2.1" ry="2.2" fill="#c4c4c4"/>
<ellipse cx="714.6" cy="108.3" rx="1.9" ry="2.5" fill="#c3c3c3"/>
<ellipse cx="723.8" cy="100.8" rx="2.3" ry="2.1" fill="#5a5a5a"/>
<ellipse cx="717.0" cy="110.6" rx="1.9" ry="1.3" fill="#d6d6d6"/>
<ellipse cx="744.0" cy="106.5" rx="2.1" ry="1.5" fill="#e8e8e8"/>
<ellipse cx="711.4" cy="101.5" rx="2.3" ry="2.4" fill="#ececec"/>
<ellipse cx="743.8" cy="99.4" rx="1.4" ry="2.3" fill="#999999"/>
<ellipse cx="743.1" cy="103.5" rx="1.5" ry="2.5" fill="#dadada"/>
<ellipse cx="740.1" cy="113.5" rx="2.3" ry="1.7" fill="#8e8e8e"/>
<ellipse cx="742.3" cy="112.0" rx="2.3" ry="1.4" fill="#9a9a9a"/>
<ellipse cx="715.3" cy="112.1" rx="1.7" ry="2.3" fill="#d0d0d0"/>
<ellipse cx="714.1" cy="101.9" rx="2.6" ry="1.7" fill="#eaeaea"/>
<ellipse cx="732.9" cy="103.4" rx="2.0" ry="2.5" fill="#f1f1f1"/>
<ellipse cx="717.1" cy="97.3" rx="2.2" ry="1.7" fill="#a2a2a2"/>
<ellipse cx="731.5" cy="105.7" rx="2.0" ry="1.6" fill="#cbcbcb"/>
<ellipse cx="744.9" cy="106.3" rx="2.3" ry="2.2" fill="#e0e0e0"/>
<ellipse cx="721.3" cy="96.5" rx="1.7" ry="1.7" fill="#848484"/>
<ellipse cx="741.6" cy="110.1" rx="1.7" ry="1.8" fill="#c6c6c6"/>
<ellipse cx="722.9" cy="101.2" rx="1.8" ry="2.5" fill="#939393"/>
<ellipse cx="734.4" cy="114.0" rx="1.7" ry="2.0" fill="#acacac"/>
<ellipse cx="724.1" cy="107.2" rx="1.9" ry="1.9" fill="#aeaeae"/>
<ellipse cx="715.0" cy="104.9" rx="2.3" ry="1.5" fill="#ececec"/>
<ellipse cx="709.6" cy="105.8" rx="1.7" ry="2.4" fill="#dbdbdb"/>
<ellipse cx="737.5" cy="109.1" rx="1.6" ry="1.3" fill="#c1c1c1"/>
<ellipse cx="716.3" cy="105.0" rx="1.4" ry="1.8" fill="#e9e9e9"/>
<ellipse cx="732.5" cy="99.1" rx="1.9" ry="1.6" fill="#b0b0b0"/>
<ellipse cx="737.5" cy="111.2" rx="1.9" ry="1.5" fill="#b9b9b9"/>
<ellipse cx="746.2" cy="105.9" rx="1.6" ry="2.4" fill="#8f8f8f"/>
<ellipse cx="725.2" cy="111.8" rx="2.6" ry="2.1" fill="#848484"/>
<ellipse cx="731.7" cy="110.1" rx="2.4" ry="2.0" fill="#d3d3d3"/>
<ellipse cx="743.7" cy="110.6" rx="1.6" ry="1.6" fill="#a4a4a4"/>
<ellipse cx="732.8" cy="111.1" rx="2.1" ry="1.7" fill="#d4d4d4"/>
<ellipse cx="709.3" cy="101.0" rx="1.7" ry="2.0" fill="#9a9a9a"/>
<ellipse cx="711.8" cy="99.9" rx="2.2" ry="1.4" fill="#b0b0b0"/>
<ellipse cx="723.1" cy="106.4" rx="1.6" ry="1.8" fill="#a1a1a1"/>
<ellipse cx="744.0" cy="107.3" rx="2.4" ry="2.3" fill="#dfdfdf"/>
<ellipse cx="720.8" cy="110.8" rx="2.5" ry="1.8" fill="#b8b8b8"/>
<ellipse cx="737.4" cy="106.5" rx="1.6" ry="1.6" fill="#d9d9d9"/>
<ellipse cx="724.3" cy="95.6" rx="2.2" ry="1.8" fill="#6f6f6f"/>
<ellipse cx="712.9" cy="104.8" rx="2.1" ry="1.3" fill="#bbbbbb"/>
<ellipse cx="722.5" cy="106.9" rx="2.1" ry="1.5" fill="#8e8e8e"/>
<ellipse cx="725.4" cy="96.1" rx="1.6" ry="1.7" fill="#717171"/>
<ellipse cx="738.0" cy="103.0" rx="2.4" ry="1.6" fill="#e2e2e2"/>
<ellipse cx="720.7" cy="108.7" rx="2.1" ry="2.3" fill="#e4e4e4"/>
<ellipse cx="711.3" cy="109.1" rx="1.6" ry="2.2" fill="#d6d6d6"/>
<ellipse cx="738.2" cy="98.5" rx="2.3" ry="1.4" fill="#ababab"/>
<ellipse cx="719.1" cy="109.2" rx="1.8" ry="2.2" fill="#f0f0f0"/>
<ellipse cx="709.2" cy="109.5" rx="1.4" ry="2.3" fill="#dbdbdb"/>
<ellipse cx="741.7" cy="107.6" rx="2.6" ry="2.3" fill="#bababa"/>
<ellipse cx="720.6" cy="104.0" rx="2.0" ry="1.7" fill="#cacaca"/>
<ellipse cx="741.7" cy="112.3" rx="2.5" ry="2.1" fill="#929292"/>
<ellipse cx="740.8" cy="109.9" rx="2.3" ry="2.6" fill="#cecece"/>
<ellipse cx="717.3" cy="112.0" rx="1.9" ry="1.9" fill="#d5d5d5"/>
<ellipse cx="736.7" cy="100.6" rx="2.4" ry="1.4" fill="#e9e9e9"/>
<ellipse cx="743.0" cy="100.1" rx="2.1" ry="1.8" fill="#a4a4a4"/>
<ellipse cx="713.6" cy="99.5" rx="1.7" ry="2.4" fill="#b5b5b5"/>
<ellipse cx="735.4" cy="100.8" rx="2.5" ry="1.4" fill="#b3b3b3"/>
<ellipse cx="736.2" cy="105.3" rx="2.2" ry="2.1" fill="#e3e3e3"/>
<ellipse cx="726.6" cy="111.7" rx="1.6" ry="2.2" fill="#5f5f5f"/>
<ellipse cx="718.9" cy="107.2" rx="2.0" ry="1.9" fill="#d1d1d1"/>
<ellipse cx="737.3" cy="101.9" rx="1.7" ry="1.6" fill="#dfdfdf"/>
<ellipse cx="711.1" cy="99.0" rx="2.0" ry="2.3" fill="#929292"/>
<ellipse cx="713.8" cy="99.5" rx="2.2" ry="2.6" fill="#a5a5a5"/>
<ellipse cx="728.0" cy="100.9" rx="1.6" ry="1.6" fill="#919191"/>
<ellipse cx="728.4" cy="100.8" rx="2.0" ry="2.2" fill="#bebebe"/>
<ellipse cx="726.6" cy="113.3" rx="1.9" ry="1.9" fill="#7e7e7e"/>
<ellipse cx="745.5" cy="105.0" rx="1.8" ry="1.4" fill="#b6b6b6"/>
<ellipse cx="732.4" cy="96.1" rx="2.0" ry="1.7" fill="#636363"/>
<ellipse cx="738.1" cy="107.7" rx="1.6" ry="2.0" fill="#e5e5e5"/>
<ellipse cx="724.9" cy="104.3" rx="2.6" ry="1.7" fill="#909090"/>
<ellipse cx="732.1" cy="107.8" rx="2.5" ry="1.6" fill="#e2e2e2"/>
<ellipse cx="714.9" cy="108.9" rx="1.5" ry="1.4" fill="#bcbcbc"/>
<ellipse cx="706.1" cy="104.5" rx="1.7" ry="1.6" fill="#ababab"/>
<ellipse cx="735.7" cy="109.8" rx="2.2" ry="2.5" fill="#d0d0d0"/>
<ellipse cx="739.1" cy="108.1" rx="2.5" ry="1.9" fill="#dddddd"/>
<ellipse cx="728.9" cy="108.6" rx="2.4" ry="1.4" fill="#bbbbbb"/>
<ellipse cx="713.0" cy="101.5" rx="2.0" ry="1.7" fill="#e2e2e2"/>
<ellipse cx="711.2" cy="109.5" rx="2.5" ry="2.0" fill="#dfdfdf"/>
<ellipse cx="726.7" cy="96.7" rx="1.9" ry="1.7" fill="#5c5c5c"/>
<ellipse cx="716.5" cy="96.9" rx="2.4" ry="2.0" fill="#969696"/>
<ellipse cx="734.2" cy="100.7" rx="2.3" ry="1.9" fill="#b5b5b5"/>
<ellipse cx="733.4" cy="114.2" rx="2.1" ry="2.1" fill="#959595"/>
<ellipse cx="726.7" cy="96.9" rx="1.7" ry="2.2" fill="#6f6f6f"/>
<ellipse cx="742.0" cy="101.9" rx="1.7" ry="2.5" fill="#dfdfdf"/>
<ellipse cx="740.2" cy="106.6" rx="1.7" ry="1.7" fill="#d0d0d0"/>
<ellipse cx="746.7" cy="103.5" rx="2.6" ry="2.2" fill="#a7a7a7"/>
<ellipse cx="728.8" cy="103.7" rx="1.8" ry="2.3" fill="#969696"/>
<ellipse cx="732.3" cy="111.0" rx="2.0" ry="2.5" fill="#c0c0c0"/>
<ellipse cx="724.4" cy="109.7" rx="2.6" ry="2.1" fill="#929292"/>
<ellipse cx="716.1" cy="98.3" rx="2.0" ry="1.4" fill="#a8a8a8"/>
<ellipse cx="725.4" cy="97.5" rx="1.9" ry="2.2" fill="#8e8e8e"/>
<ellipse cx="727.4" cy="100.7" rx="2.6" ry="1.6" fill="#b7b7b7"/>
<ellipse cx="729.2" cy="103.1" rx="2.0" ry="2.4" fill="#bbbbbb"/>
<ellipse cx="742.3" cy="100.8" rx="1.8" ry="2.5" fill="#b5b5b5"/>
<ellipse cx="727.3" cy="112.2" rx="1.7" ry="2.1" fill="#9b9b9b"/>
<ellipse cx="748.0" cy="105.3" rx="2.0" ry="1.7" fill="#949494"/>
<ellipse cx="729.2" cy="106.4" rx="1.7" ry="1.5" fill="#d0d0d0"/>
<ellipse cx="735.3" cy="107.0" rx="2.3" ry="1.4" fill="#c1c1c1"/>
<ellipse cx="737.3" cy="109.8" rx="1.8" ry="2.2" fill="#e6e6e6"/>
<ellipse cx="726.8" cy="95.8" rx="2.1" ry="2.4" fill="#797979"/>
<ellipse cx="742.7" cy="104.2" rx="1.9" ry="2.2" fill="#d4d4d4"/>
<ellipse cx="723.2" cy="108.8" rx="1.9" ry="2.6" fill="#949494"/>
<ellipse cx="720.2" cy="109.5" rx="2.4" ry="2.4" fill="#dcdcdc"/>
<ellipse cx="742.1" cy="103.0" rx="2.2" ry="2.3" fill="#c7c7c7"/>
<ellipse cx="708.9" cy="108.3" rx="2.6" ry="2.3" fill="#ededed"/>
<ellipse cx="724.2" cy="97.1" rx="2.4" ry="1.9" fill="#828282"/>
<ellipse cx="735.1" cy="114.0" rx="2.3" ry="1.7" fill="#8f8f8f"/>
<ellipse cx="721.7" cy="98.1" rx="2.0" ry="2.3" fill="#7b7b7b"/>
<ellipse cx="742.6" cy="108.0" rx="2.5" ry="1.5" fill="#c2c2c2"/>
<ellipse cx="725.4" cy="100.3" rx="1.3" ry="2.3" fill="#6a6a6a"/>
<ellipse cx="713.5" cy="107" rx="4.2" ry="4" fill="#f2f2f2"/>
<ellipse cx="737.5" cy="107" rx="4.3" ry="4.4" fill="#ebebeb"/>
<ellipse cx="726" cy="100" rx="2.2" ry="3" fill="#a8a8a8"/>
<ellipse cx="698" cy="98" rx="2.5" ry="2" fill="#333333"/>
<ellipse cx="755" cy="100" rx="2" ry="4" fill="#3d3d3d"/>
<ellipse cx="700" cy="80" rx="1.5" ry="4" fill="#292929"/>
<ellipse cx="754" cy="112" rx="2" ry="2" fill="#383838"/>
<ellipse cx="720" cy="120" rx="2" ry="1.5" fill="#333333"/>
<ellipse cx="735" cy="121" rx="2" ry="1.5" fill="#333333"/>
<ellipse cx="752" cy="80" rx="2.5" ry="3.5" fill="#4c4c4c"/>
<ellipse cx="712.2" cy="197.9" rx="1.7" ry="1.5" fill="#222222"/>
<ellipse cx="743.6" cy="205.9" rx="1.6" ry="1.6" fill="#232323"/>
<ellipse cx="733.3" cy="155.7" rx="1.9" ry="1.2" fill="#232323"/>
<ellipse cx="740.9" cy="210.5" rx="1.7" ry="1.0" fill="#272727"/>
<ellipse cx="728.9" cy="158.9" rx="2.1" ry="1.4" fill="#202020"/>
<ellipse cx="744.9" cy="159.5" rx="2.1" ry="1.5" fill="#303030"/>
<ellipse cx="721.1" cy="184.0" rx="1.2" ry="1.0" fill="#3d3d3d"/>
<ellipse cx="715.7" cy="204.1" rx="1.2" ry="2.1" fill="#3e3e3e"/>
<ellipse cx="741.7" cy="202.9" rx="1.7" ry="1.8" fill="#1f1f1f"/>
<ellipse cx="727.8" cy="207.2" rx="1.2" ry="2.1" fill="#3e3e3e"/>
<ellipse cx="724.5" cy="175.8" rx="1.5" ry="1.4" fill="#424242"/>
<ellipse cx="723.3" cy="152.8" rx="1.1" ry="1.8" fill="#424242"/>
<ellipse cx="728.8" cy="184.4" rx="1.6" ry="1.9" fill="#232323"/>
<ellipse cx="734.4" cy="188.8" rx="1.7" ry="1.2" fill="#202020"/>
<ellipse cx="721.4" cy="214.0" rx="1.4" ry="1.7" fill="#262626"/>
<ellipse cx="744.7" cy="203.8" rx="1.4" ry="1.8" fill="#353535"/>
<ellipse cx="724.4" cy="218.3" rx="2.1" ry="1.7" fill="#3d3d3d"/>
<ellipse cx="728.5" cy="176.5" rx="1.3" ry="2.0" fill="#202020"/>
<ellipse cx="742.7" cy="183.9" rx="2.0" ry="1.0" fill="#242424"/>
<ellipse cx="718.5" cy="179.5" rx="1.2" ry="1.0" fill="#272727"/>
<ellipse cx="741.3" cy="183.6" rx="1.3" ry="2.1" fill="#2f2f2f"/>
<ellipse cx="714.6" cy="208.0" rx="1.9" ry="2.0" fill="#323232"/>
<ellipse cx="725.3" cy="190.5" rx="2.0" ry="1.3" fill="#2f2f2f"/>
<ellipse cx="717.8" cy="203.2" rx="1.0" ry="1.8" fill="#414141"/>
<ellipse cx="705.2" cy="191.4" rx="1.7" ry="2.0" fill="#313131"/>
<ellipse cx="716.9" cy="178.6" rx="2.1" ry="2.0" fill="#1f1f1f"/>
<ellipse cx="705.3" cy="181.4" rx="1.1" ry="2.0" fill="#343434"/>
<ellipse cx="710.3" cy="187.6" rx="1.3" ry="1.6" fill="#222222"/>
<ellipse cx="712.3" cy="163.5" rx="1.4" ry="1.8" fill="#303030"/>
<ellipse cx="747.7" cy="203.6" rx="1.9" ry="1.0" fill="#2c2c2c"/>
<ellipse cx="712.8" cy="199.4" rx="1.3" ry="1.8" fill="#262626"/>
<ellipse cx="706.1" cy="177.4" rx="1.3" ry="2.0" fill="#252525"/>
<ellipse cx="729.2" cy="188.4" rx="2.1" ry="1.1" fill="#323232"/>
<ellipse cx="729.4" cy="201.0" rx="2.1" ry="1.3" fill="#363636"/>
<ellipse cx="730.3" cy="189.1" rx="1.0" ry="1.9" fill="#414141"/>
<ellipse cx="721.8" cy="172.6" rx="2.2" ry="1.1" fill="#1d1d1d"/>
<ellipse cx="742.0" cy="181.5" rx="1.7" ry="1.0" fill="#343434"/>
<ellipse cx="726.1" cy="186.2" rx="1.4" ry="1.4" fill="#232323"/>
<ellipse cx="706.4" cy="180.5" rx="1.3" ry="1.8" fill="#3b3b3b"/>
<ellipse cx="740.2" cy="182.0" rx="1.2" ry="1.4" fill="#2d2d2d"/>
<ellipse cx="735.6" cy="216.5" rx="1.1" ry="1.5" fill="#2e2e2e"/>
<ellipse cx="739.9" cy="211.6" rx="1.9" ry="1.7" fill="#383838"/>
<ellipse cx="737.4" cy="209.4" rx="1.8" ry="1.8" fill="#232323"/>
<ellipse cx="749.8" cy="177.2" rx="1.7" ry="1.9" fill="#414141"/>
<ellipse cx="719.6" cy="172.2" rx="1.4" ry="1.1" fill="#303030"/>
<ellipse cx="734.8" cy="148.3" rx="1.5" ry="1.8" fill="#4b4b4b"/>
<ellipse cx="734.1" cy="147.3" rx="1.2" ry="2.2" fill="#4b4b4b"/>
<ellipse cx="731.2" cy="149.4" rx="2.1" ry="1.4" fill="#616161"/>
<ellipse cx="730.8" cy="149.2" rx="1.9" ry="2.4" fill="#494949"/>
<ellipse cx="731.4" cy="150.3" rx="1.4" ry="1.7" fill="#4e4e4e"/>
<ellipse cx="730.3" cy="151.9" rx="1.7" ry="1.5" fill="#393939"/>
<ellipse cx="730.8" cy="154.2" rx="1.4" ry="2.5" fill="#5d5d5d"/>
<ellipse cx="729.6" cy="155.5" rx="2.1" ry="2.4" fill="#4a4a4a"/>
<ellipse cx="730.1" cy="155.3" rx="1.9" ry="2.3" fill="#5d5d5d"/>
<ellipse cx="729.3" cy="155.5" rx="1.5" ry="2.2" fill="#4a4a4a"/>
<ellipse cx="728.7" cy="158.6" rx="2.0" ry="1.6" fill="#4b4b4b"/>
<ellipse cx="728.9" cy="159.1" rx="1.7" ry="1.8" fill="#393939"/>
<ellipse cx="728.6" cy="161.5" rx="1.7" ry="1.4" fill="#4e4e4e"/>
<ellipse cx="727.5" cy="162.4" rx="2.3" ry="1.4" fill="#4e4e4e"/>
<ellipse cx="726.4" cy="163.2" rx="1.5" ry="1.9" fill="#626262"/>
<ellipse cx="726.2" cy="166.6" rx="2.1" ry="2.2" fill="#4f4f4f"/>
<ellipse cx="724.3" cy="156.7" rx="1.2" ry="2.2" fill="#4b4b4b"/>
<ellipse cx="722.7" cy="159.9" rx="1.9" ry="1.9" fill="#363636"/>
<ellipse cx="724.0" cy="161.3" rx="2.5" ry="2.4" fill="#444444"/>
<ellipse cx="724.4" cy="159.5" rx="1.2" ry="1.8" fill="#3c3c3c"/>
<ellipse cx="727.9" cy="162.4" rx="1.9" ry="1.4" fill="#313131"/>
<ellipse cx="725.8" cy="163.3" rx="2.5" ry="2.0" fill="#373737"/>
<ellipse cx="729.4" cy="165.1" rx="2.3" ry="2.2" fill="#4d4d4d"/>
<ellipse cx="731.1" cy="167.0" rx="1.3" ry="2.1" fill="#4a4a4a"/>
<ellipse cx="730.2" cy="166.1" rx="2.4" ry="1.8" fill="#4e4e4e"/>
<ellipse cx="732.1" cy="169.0" rx="1.7" ry="1.9" fill="#515151"/>
<ellipse cx="731.1" cy="167.5" rx="1.6" ry="2.1" fill="#363636"/>
<ellipse cx="730.7" cy="171.5" rx="1.5" ry="2.4" fill="#4a4a4a"/>
<ellipse cx="732.2" cy="171.7" rx="1.9" ry="1.5" fill="#383838"/>
<ellipse cx="734.4" cy="172.9" rx="1.2" ry="2.2" fill="#4a4a4a"/>
<ellipse cx="731.9" cy="174.6" rx="1.2" ry="2.0" fill="#3a3a3a"/>
<ellipse cx="735.2" cy="173.3" rx="1.8" ry="2.3" fill="#393939"/>
<ellipse cx="735.7" cy="175.8" rx="2.1" ry="1.2" fill="#3d3d3d"/>
<ellipse cx="735.4" cy="175.7" rx="2.4" ry="1.2" fill="#4a4a4a"/>
<ellipse cx="721.1" cy="164.1" rx="1.9" ry="2.0" fill="#414141"/>
<ellipse cx="719.8" cy="165.9" rx="2.5" ry="1.8" fill="#6a6a6a"/>
<ellipse cx="721.2" cy="166.7" rx="2.0" ry="2.3" fill="#595959"/>
<ellipse cx="721.2" cy="167.6" rx="2.1" ry="1.9" fill="#4d4d4d"/>
<ellipse cx="720.2" cy="172.5" rx="2.3" ry="2.1" fill="#6e6e6e"/>
<ellipse cx="721.4" cy="172.6" rx="2.4" ry="2.3" fill="#424242"/>
<ellipse cx="719.0" cy="175.9" rx="1.7" ry="2.0" fill="#4d4d4d"/>
<ellipse cx="719.6" cy="174.6" rx="1.9" ry="1.9" fill="#6e6e6e"/>
<ellipse cx="721.6" cy="177.8" rx="2.5" ry="2.0" fill="#464646"/>
<ellipse cx="721.7" cy="179.2" rx="1.9" ry="2.1" fill="#484848"/>
<ellipse cx="720.0" cy="177.9" rx="1.2" ry="2.3" fill="#727272"/>
<ellipse cx="719.1" cy="179.7" rx="1.5" ry="2.2" fill="#6c6c6c"/>
<ellipse cx="717.8" cy="184.3" rx="1.6" ry="2.3" fill="#727272"/>
<ellipse cx="721.7" cy="183.9" rx="1.2" ry="1.9" fill="#3f3f3f"/>
<ellipse cx="719.4" cy="186.2" rx="1.3" ry="1.2" fill="#6c6c6c"/>
<ellipse cx="721.7" cy="188.6" rx="1.6" ry="1.7" fill="#595959"/>
<ellipse cx="720.3" cy="188.4" rx="2.0" ry="2.4" fill="#585858"/>
<ellipse cx="720.9" cy="188.3" rx="1.5" ry="2.4" fill="#595959"/>
<ellipse cx="718.1" cy="190.2" rx="1.9" ry="1.2" fill="#5e5e5e"/>
<ellipse cx="718.4" cy="192.2" rx="1.8" ry="2.0" fill="#505050"/>
<ellipse cx="721.2" cy="191.0" rx="1.2" ry="2.0" fill="#717171"/>
<ellipse cx="720.1" cy="194.4" rx="1.6" ry="1.6" fill="#4e4e4e"/>
<ellipse cx="720.8" cy="194.4" rx="1.6" ry="2.2" fill="#3f3f3f"/>
<ellipse cx="721.4" cy="195.7" rx="1.4" ry="2.2" fill="#4a4a4a"/>
<ellipse cx="727.3" cy="176.3" rx="1.3" ry="1.2" fill="#535353"/>
<ellipse cx="729.4" cy="178.5" rx="1.4" ry="1.8" fill="#4c4c4c"/>
<ellipse cx="727.3" cy="178.1" rx="2.4" ry="2.2" fill="#686868"/>
<ellipse cx="727.6" cy="179.5" rx="2.0" ry="2.1" fill="#6b6b6b"/>
<ellipse cx="727.3" cy="181.6" rx="2.0" ry="1.8" fill="#474747"/>
<ellipse cx="727.3" cy="183.7" rx="2.3" ry="1.9" fill="#4d4d4d"/>
<ellipse cx="728.7" cy="184.7" rx="2.3" ry="1.8" fill="#535353"/>
<ellipse cx="728.3" cy="183.7" rx="1.5" ry="2.2" fill="#3f3f3f"/>
<ellipse cx="727.8" cy="187.2" rx="1.8" ry="1.6" fill="#727272"/>
<ellipse cx="728.2" cy="187.4" rx="2.0" ry="1.5" fill="#505050"/>
<ellipse cx="728.0" cy="189.6" rx="2.3" ry="1.3" fill="#414141"/>
<ellipse cx="729.3" cy="190.9" rx="1.4" ry="1.6" fill="#474747"/>
<ellipse cx="727.1" cy="192.3" rx="2.3" ry="2.4" fill="#646464"/>
<ellipse cx="727.1" cy="192.3" rx="2.4" ry="2.2" fill="#535353"/>
<ellipse cx="728.9" cy="195.0" rx="1.5" ry="1.4" fill="#555555"/>
<ellipse cx="728.1" cy="196.6" rx="1.6" ry="1.1" fill="#3f3f3f"/>
<ellipse cx="729.4" cy="196.0" rx="1.5" ry="1.3" fill="#727272"/>
<ellipse cx="739.9" cy="164.8" rx="2.4" ry="2.1" fill="#6f6f6f"/>
<ellipse cx="740.6" cy="166.6" rx="2.3" ry="1.3" fill="#565656"/>
<ellipse cx="738.9" cy="167.5" rx="1.1" ry="1.4" fill="#4c4c4c"/>
<ellipse cx="739.7" cy="167.0" rx="2.2" ry="1.3" fill="#5e5e5e"/>
<ellipse cx="736.6" cy="171.1" rx="1.4" ry="1.4" fill="#727272"/>
<ellipse cx="737.6" cy="172.6" rx="1.9" ry="2.0" fill="#484848"/>
<ellipse cx="739.2" cy="173.8" rx="2.3" ry="1.5" fill="#515151"/>
<ellipse cx="736.9" cy="171.4" rx="1.5" ry="1.9" fill="#3d3d3d"/>
<ellipse cx="737.6" cy="173.6" rx="2.2" ry="1.8" fill="#4e4e4e"/>
<ellipse cx="739.0" cy="173.8" rx="2.4" ry="1.2" fill="#656565"/>
<ellipse cx="736.1" cy="177.9" rx="1.6" ry="1.9" fill="#3e3e3e"/>
<ellipse cx="739.7" cy="177.9" rx="2.1" ry="2.4" fill="#707070"/>
<ellipse cx="737.2" cy="180.4" rx="2.2" ry="1.3" fill="#656565"/>
<ellipse cx="739.2" cy="179.7" rx="2.4" ry="1.2" fill="#505050"/>
<ellipse cx="739.3" cy="182.1" rx="2.4" ry="1.9" fill="#4e4e4e"/>
<ellipse cx="736.3" cy="182.2" rx="1.3" ry="2.1" fill="#727272"/>
<ellipse cx="735.7" cy="187.0" rx="1.8" ry="1.7" fill="#4a4a4a"/>
<ellipse cx="738.9" cy="186.1" rx="1.7" ry="1.2" fill="#6e6e6e"/>
<ellipse cx="739.1" cy="187.2" rx="2.1" ry="2.4" fill="#5f5f5f"/>
<ellipse cx="736.3" cy="189.6" rx="1.3" ry="2.3" fill="#4d4d4d"/>
<ellipse cx="739.9" cy="192.5" rx="2.4" ry="1.7" fill="#575757"/>
<ellipse cx="737.9" cy="191.4" rx="1.7" ry="1.3" fill="#515151"/>
<ellipse cx="739.9" cy="194.0" rx="1.8" ry="1.6" fill="#424242"/>
<ellipse cx="739.3" cy="196.1" rx="1.6" ry="2.2" fill="#676767"/>
<ellipse cx="738.9" cy="196.9" rx="1.6" ry="2.1" fill="#4c4c4c"/>
<ellipse cx="739.4" cy="197.8" rx="1.5" ry="2.4" fill="#606060"/>
<ellipse cx="736.5" cy="198.4" rx="1.5" ry="2.0" fill="#565656"/>
<ellipse cx="739.1" cy="200.6" rx="1.6" ry="2.0" fill="#656565"/>
<ellipse cx="738.0" cy="202.0" rx="2.3" ry="2.1" fill="#717171"/>
<ellipse cx="738.8" cy="201.9" rx="1.3" ry="2.3" fill="#6f6f6f"/>
<ellipse cx="739.6" cy="203.9" rx="2.1" ry="1.4" fill="#676767"/>
<ellipse cx="739.5" cy="203.9" rx="2.0" ry="2.2" fill="#5f5f5f"/>
<ellipse cx="737.1" cy="204.0" rx="1.7" ry="2.0" fill="#494949"/>
<ellipse cx="749.1" cy="174.5" rx="1.5" ry="1.1" fill="#5d5d5d"/>
<ellipse cx="749.1" cy="175.0" rx="2.2" ry="1.5" fill="#646464"/>
<ellipse cx="747.8" cy="176.8" rx="2.0" ry="1.4" fill="#585858"/>
<ellipse cx="747.4" cy="179.1" rx="2.0" ry="2.3" fill="#4e4e4e"/>
<ellipse cx="750.3" cy="179.6" rx="1.3" ry="1.4" fill="#5c5c5c"/>
<ellipse cx="751.3" cy="181.3" rx="1.4" ry="2.0" fill="#4f4f4f"/>
<ellipse cx="751.3" cy="182.1" rx="2.0" ry="2.1" fill="#646464"/>
<ellipse cx="747.6" cy="182.4" rx="1.9" ry="1.5" fill="#5a5a5a"/>
<ellipse cx="750.4" cy="183.5" rx="2.0" ry="1.5" fill="#474747"/>
<ellipse cx="748.9" cy="185.0" rx="2.3" ry="2.1" fill="#3e3e3e"/>
<ellipse cx="748.7" cy="186.6" rx="2.3" ry="2.0" fill="#4c4c4c"/>
<ellipse cx="750.5" cy="186.7" rx="2.5" ry="1.2" fill="#525252"/>
<ellipse cx="750.4" cy="191.7" rx="1.5" ry="2.4" fill="#696969"/>
<ellipse cx="752.6" cy="190.4" rx="2.2" ry="2.2" fill="#565656"/>
<ellipse cx="751.6" cy="191.3" rx="1.2" ry="2.1" fill="#4a4a4a"/>
<ellipse cx="751.9" cy="191.3" rx="1.2" ry="1.3" fill="#5a5a5a"/>
<ellipse cx="749.5" cy="193.7" rx="2.4" ry="1.5" fill="#515151"/>
<ellipse cx="751.0" cy="193.9" rx="1.8" ry="1.8" fill="#444444"/>
<ellipse cx="749.5" cy="197.4" rx="1.6" ry="2.0" fill="#6c6c6c"/>
<ellipse cx="749.7" cy="197.6" rx="1.6" ry="1.7" fill="#555555"/>
<ellipse cx="752.2" cy="197.3" rx="1.1" ry="1.7" fill="#404040"/>
<ellipse cx="748.3" cy="201.4" rx="1.6" ry="2.4" fill="#676767"/>
<ellipse cx="703.2" cy="192.1" rx="1.2" ry="1.8" fill="#484848"/>
<ellipse cx="703.3" cy="189.3" rx="1.2" ry="1.2" fill="#4a4a4a"/>
<ellipse cx="703.9" cy="187.6" rx="2.0" ry="2.4" fill="#515151"/>
<ellipse cx="707.6" cy="185.9" rx="2.3" ry="1.5" fill="#3e3e3e"/>
<ellipse cx="707.5" cy="184.5" rx="1.9" ry="2.0" fill="#484848"/>
<ellipse cx="704.7" cy="183.1" rx="1.4" ry="2.0" fill="#4b4b4b"/>
<ellipse cx="707.1" cy="183.7" rx="1.5" ry="2.2" fill="#565656"/>
<ellipse cx="707.3" cy="183.1" rx="2.3" ry="2.1" fill="#454545"/>
<ellipse cx="706.2" cy="181.9" rx="2.1" ry="1.3" fill="#4d4d4d"/>
<ellipse cx="710.2" cy="181.1" rx="2.3" ry="1.5" fill="#565656"/>
<ellipse cx="710.2" cy="180.0" rx="2.3" ry="2.4" fill="#4d4d4d"/>
<ellipse cx="708.8" cy="180.3" rx="2.0" ry="2.5" fill="#5c5c5c"/>
<ellipse cx="710.8" cy="179.4" rx="1.2" ry="1.7" fill="#3f3f3f"/>
<ellipse cx="713.2" cy="197.5" rx="2.1" ry="1.2" fill="#494949"/>
<ellipse cx="709.4" cy="201.4" rx="1.7" ry="1.7" fill="#555555"/>
<ellipse cx="713.2" cy="199.4" rx="1.4" ry="1.2" fill="#4a4a4a"/>
<ellipse cx="713.9" cy="202.0" rx="1.3" ry="1.5" fill="#6d6d6d"/>
<ellipse cx="711.7" cy="205.7" rx="1.6" ry="2.1" fill="#555555"/>
<ellipse cx="714.9" cy="206.3" rx="1.3" ry="1.2" fill="#6b6b6b"/>
<ellipse cx="711.3" cy="209.4" rx="1.9" ry="2.1" fill="#686868"/>
<ellipse cx="712.6" cy="210.1" rx="1.3" ry="2.2" fill="#424242"/>
<ellipse cx="714.8" cy="211.5" rx="2.3" ry="1.8" fill="#474747"/>
<ellipse cx="714.2" cy="210.1" rx="1.2" ry="2.3" fill="#565656"/>
<ellipse cx="713.4" cy="209.3" rx="1.1" ry="1.6" fill="#4a4a4a"/>
<ellipse cx="715.2" cy="213.2" rx="2.3" ry="1.4" fill="#505050"/>
<ellipse cx="717.6" cy="214.7" rx="1.4" ry="2.2" fill="#4c4c4c"/>
<ellipse cx="717.7" cy="211.6" rx="1.7" ry="1.4" fill="#515151"/>
<ellipse cx="719.0" cy="214.5" rx="1.5" ry="1.3" fill="#414141"/>
<ellipse cx="720.4" cy="217.1" rx="1.8" ry="2.1" fill="#6d6d6d"/>
<ellipse cx="723.7" cy="216.7" rx="2.1" ry="1.6" fill="#6c6c6c"/>
<ellipse cx="724.9" cy="218.6" rx="1.2" ry="2.4" fill="#626262"/>
<ellipse cx="728.0" cy="214.9" rx="2.4" ry="1.7" fill="#414141"/>
<ellipse cx="728.7" cy="216.6" rx="1.3" ry="1.3" fill="#595959"/>
<ellipse cx="727.8" cy="216.5" rx="2.1" ry="2.1" fill="#545454"/>
<ellipse cx="730.2" cy="215.5" rx="1.4" ry="1.7" fill="#434343"/>
<ellipse cx="733.2" cy="217.5" rx="1.2" ry="1.6" fill="#525252"/>
<ellipse cx="735.6" cy="216.5" rx="2.1" ry="1.4" fill="#484848"/>
<ellipse cx="736.6" cy="217.2" rx="1.1" ry="1.9" fill="#696969"/>
<ellipse cx="738.8" cy="218.8" rx="1.4" ry="1.5" fill="#585858"/>
<ellipse cx="736.8" cy="218.5" rx="2.3" ry="1.8" fill="#5c5c5c"/>
<ellipse cx="740.2" cy="214.7" rx="2.3" ry="1.4" fill="#4f4f4f"/>
<ellipse cx="741.6" cy="214.7" rx="1.5" ry="1.9" fill="#666666"/>
<ellipse cx="743.2" cy="216.8" rx="2.2" ry="1.9" fill="#4f4f4f"/>
<ellipse cx="741.6" cy="215.0" rx="2.3" ry="1.5" fill="#414141"/>
<ellipse cx="741.2" cy="213.7" rx="1.3" ry="2.2" fill="#4a4a4a"/>
<ellipse cx="745.0" cy="213.4" rx="1.5" ry="2.3" fill="#515151"/>
<ellipse cx="746.7" cy="214.2" rx="2.1" ry="1.5" fill="#656565"/>
<ellipse cx="746.7" cy="211.1" rx="2.2" ry="2.2" fill="#505050"/>
<ellipse cx="747.3" cy="213.8" rx="2.4" ry="2.2" fill="#444444"/>
<ellipse cx="747.6" cy="208.1" rx="1.7" ry="2.3" fill="#696969"/>
<ellipse cx="745.1" cy="210.2" rx="2.3" ry="2.0" fill="#4d4d4d"/>
<ellipse cx="750.5" cy="208.6" rx="1.6" ry="2.2" fill="#656565"/>
<ellipse cx="749.4" cy="205.7" rx="1.5" ry="1.6" fill="#4d4d4d"/>
<ellipse cx="747.2" cy="206.9" rx="1.6" ry="1.3" fill="#494949"/>
<ellipse cx="749.3" cy="206.2" rx="1.3" ry="1.4" fill="#4b4b4b"/>
<ellipse cx="751.5" cy="201.5" rx="1.2" ry="1.9" fill="#616161"/>
<ellipse cx="750.8" cy="201.6" rx="2.3" ry="2.1" fill="#545454"/>
<ellipse cx="753.3" cy="204.3" rx="2.4" ry="1.3" fill="#4d4d4d"/>
<ellipse cx="749.5" cy="202.0" rx="1.2" ry="2.3" fill="#5a5a5a"/>
<ellipse cx="711.1" cy="195.1" rx="2.3" ry="1.1" fill="#4e4e4e"/>
<ellipse cx="711.2" cy="196.8" rx="2.0" ry="1.2" fill="#484848"/>
<ellipse cx="713.4" cy="197.7" rx="1.3" ry="1.4" fill="#3d3d3d"/>
<ellipse cx="715.8" cy="197.8" rx="2.2" ry="1.6" fill="#585858"/>
<ellipse cx="717.0" cy="199.0" rx="1.7" ry="1.2" fill="#444444"/>
<ellipse cx="716.8" cy="199.7" rx="1.4" ry="2.3" fill="#5e5e5e"/>
<ellipse cx="731.2" cy="196.5" rx="1.4" ry="2.2" fill="#5c5c5c"/>
<ellipse cx="731.3" cy="196.9" rx="1.6" ry="1.5" fill="#616161"/>
<ellipse cx="731.8" cy="198.5" rx="1.9" ry="1.6" fill="#444444"/>
<ellipse cx="733.9" cy="198.6" rx="2.0" ry="1.3" fill="#5a5a5a"/>
<ellipse cx="736.3" cy="198.9" rx="1.2" ry="1.1" fill="#3e3e3e"/>
<ellipse cx="735.1" cy="198.7" rx="2.3" ry="1.5" fill="#505050"/>
<ellipse cx="735.3" cy="200.0" rx="2.3" ry="1.3" fill="#424242"/>
<ellipse cx="720" cy="178" rx="1.8" ry="3.2" fill="#8f8f8f"/>
<ellipse cx="721" cy="190" rx="1.6" ry="2" fill="#858585"/>
<ellipse cx="728.5" cy="188" rx="1.5" ry="2.8" fill="#858585"/>
<ellipse cx="739.5" cy="170.5" rx="2" ry="2" fill="#999999"/>
<ellipse cx="738" cy="183" rx="1.6" ry="2.4" fill="#858585"/>
<ellipse cx="751.3" cy="187.5" rx="2.4" ry="4.2" fill="#9e9e9e"/>
<ellipse cx="715.7" cy="208" rx="2.1" ry="2.1" fill="#949494"/>
<ellipse cx="731.5" cy="215.5" rx="2.6" ry="1.8" fill="#949494"/>
<ellipse cx="737.5" cy="204.3" rx="1.8" ry="1.6" fill="#8c8c8c"/>
<ellipse cx="744" cy="209" rx="1.6" ry="1.6" fill="#858585"/>
<ellipse cx="723" cy="156" rx="1.3" ry="1.3" fill="#757575"/>
<ellipse cx="706" cy="186" rx="1.6" ry="1.6" fill="#808080"/>
<ellipse cx="747" cy="178" rx="1.3" ry="1.6" fill="#7a7a7a"/>
<ellipse cx="730.7" cy="302.0" rx="2.0" ry="1.3" fill="#343434"/>
<ellipse cx="710.7" cy="303.5" rx="1.8" ry="1.6" fill="#414141"/>
<ellipse cx="728.5" cy="287.8" rx="2.2" ry="1.8" fill="#262626"/>
<ellipse cx="717.1" cy="291.7" rx="1.0" ry="1.8" fill="#383838"/>
<ellipse cx="723.2" cy="318.3" rx="2.2" ry="1.7" fill="#353535"/>
<ellipse cx="712.1" cy="322.1" rx="1.9" ry="1.1" fill="#272727"/>
<ellipse cx="713.6" cy="274.7" rx="1.0" ry="1.7" fill="#262626"/>
<ellipse cx="721.5" cy="268.1" rx="1.1" ry="1.0" fill="#3d3d3d"/>
<ellipse cx="739.9" cy="296.5" rx="1.1" ry="1.2" fill="#1e1e1e"/>
<ellipse cx="717.5" cy="258.4" rx="1.3" ry="1.2" fill="#212121"/>
<ellipse cx="735.0" cy="288.8" rx="1.6" ry="1.4" fill="#2f2f2f"/>
<ellipse cx="741.8" cy="277.4" rx="1.1" ry="1.6" fill="#292929"/>
<ellipse cx="741.6" cy="262.4" rx="2.1" ry="1.0" fill="#303030"/>
<ellipse cx="724.1" cy="278.0" rx="2.1" ry="1.9" fill="#202020"/>
<ellipse cx="726.7" cy="300.5" rx="1.0" ry="1.1" fill="#323232"/>
<ellipse cx="738.9" cy="289.2" rx="1.5" ry="1.6" fill="#242424"/>
<ellipse cx="726.1" cy="255.6" rx="1.5" ry="2.0" fill="#272727"/>
<ellipse cx="738.0" cy="301.3" rx="1.3" ry="1.8" fill="#393939"/>
<ellipse cx="723.6" cy="315.5" rx="2.2" ry="2.1" fill="#383838"/>
<ellipse cx="731.5" cy="292.9" rx="2.1" ry="1.8" fill="#373737"/>
<ellipse cx="712.9" cy="261.0" rx="1.3" ry="1.7" fill="#313131"/>
<ellipse cx="711.3" cy="268.3" rx="2.2" ry="1.1" fill="#3f3f3f"/>
<ellipse cx="741.1" cy="297.6" rx="2.3" ry="1.9" fill="#1a1a1a"/>
<ellipse cx="749.8" cy="285.4" rx="2.2" ry="2.0" fill="#1f1f1f"/>
<ellipse cx="741.6" cy="314.1" rx="1.3" ry="1.1" fill="#292929"/>
<ellipse cx="742.6" cy="310.3" rx="2.1" ry="2.2" fill="#383838"/>
<ellipse cx="733.2" cy="278.8" rx="1.1" ry="1.4" fill="#272727"/>
<ellipse cx="726.8" cy="288.2" rx="1.2" ry="1.1" fill="#222222"/>
<ellipse cx="722.6" cy="263.9" rx="2.0" ry="1.7" fill="#2c2c2c"/>
<ellipse cx="734.2" cy="271.9" rx="1.0" ry="1.1" fill="#272727"/>
<ellipse cx="719.8" cy="273.2" rx="1.4" ry="2.1" fill="#1a1a1a"/>
<ellipse cx="724.4" cy="283.1" rx="1.3" ry="1.9" fill="#232323"/>
<ellipse cx="734.5" cy="326.7" rx="1.4" ry="2.0" fill="#1b1b1b"/>
<ellipse cx="713.4" cy="314.4" rx="1.6" ry="2.0" fill="#292929"/>
<ellipse cx="733.4" cy="268.3" rx="1.2" ry="2.1" fill="#2b2b2b"/>
<ellipse cx="743.3" cy="275.6" rx="1.9" ry="2.2" fill="#333333"/>
<ellipse cx="713.2" cy="304.8" rx="2.2" ry="2.0" fill="#2c2c2c"/>
<ellipse cx="721.8" cy="261.5" rx="2.0" ry="1.2" fill="#222222"/>
<ellipse cx="721.0" cy="290.2" rx="1.2" ry="1.5" fill="#383838"/>
<ellipse cx="728.2" cy="322.7" rx="2.2" ry="1.7" fill="#1d1d1d"/>
<ellipse cx="747.8" cy="294.4" rx="1.5" ry="1.7" fill="#3a3a3a"/>
<ellipse cx="752.7" cy="291.5" rx="1.6" ry="1.4" fill="#2f2f2f"/>
<ellipse cx="729.3" cy="275.5" rx="1.6" ry="2.2" fill="#232323"/>
<ellipse cx="714.2" cy="277.1" rx="2.1" ry="1.4" fill="#3b3b3b"/>
<ellipse cx="742.8" cy="268.8" rx="1.6" ry="2.0" fill="#232323"/>
<ellipse cx="732.3" cy="320.2" rx="2.2" ry="1.4" fill="#1e1e1e"/>
<ellipse cx="729.5" cy="275.3" rx="2.0" ry="1.8" fill="#333333"/>
<ellipse cx="744.0" cy="279.0" rx="1.8" ry="1.4" fill="#252525"/>
<ellipse cx="707.0" cy="313.9" rx="2.1" ry="1.0" fill="#373737"/>
<ellipse cx="704.2" cy="285.7" rx="1.4" ry="2.2" fill="#2b2b2b"/>
<ellipse cx="730.1" cy="267.3" rx="2.4" ry="2.5" fill="#565656"/>
<ellipse cx="723.9" cy="272.7" rx="1.8" ry="1.6" fill="#323232"/>
<ellipse cx="729.4" cy="260.8" rx="1.6" ry="2.1" fill="#525252"/>
<ellipse cx="738.6" cy="259.8" rx="1.3" ry="1.6" fill="#474747"/>
<ellipse cx="741.9" cy="270.5" rx="2.5" ry="2.0" fill="#4b4b4b"/>
<ellipse cx="721.1" cy="263.2" rx="1.5" ry="2.0" fill="#4a4a4a"/>
<ellipse cx="731.8" cy="264.4" rx="1.8" ry="1.6" fill="#535353"/>
<ellipse cx="732.1" cy="269.7" rx="2.4" ry="1.6" fill="#333333"/>
<ellipse cx="720.7" cy="272.1" rx="2.3" ry="1.8" fill="#525252"/>
<ellipse cx="723.0" cy="271.5" rx="1.3" ry="2.3" fill="#5b5b5b"/>
<ellipse cx="726.0" cy="265.4" rx="1.4" ry="1.6" fill="#393939"/>
<ellipse cx="721.3" cy="259.5" rx="1.6" ry="1.4" fill="#464646"/>
<ellipse cx="725.4" cy="261.9" rx="2.6" ry="1.6" fill="#464646"/>
<ellipse cx="744.0" cy="269.9" rx="2.6" ry="2.1" fill="#565656"/>
<ellipse cx="712.5" cy="269.5" rx="1.7" ry="1.7" fill="#515151"/>
<ellipse cx="738.2" cy="263.6" rx="1.7" ry="1.6" fill="#595959"/>
<ellipse cx="733.4" cy="262.4" rx="2.0" ry="1.3" fill="#3a3a3a"/>
<ellipse cx="729.1" cy="273.1" rx="2.4" ry="2.0" fill="#515151"/>
<ellipse cx="719.6" cy="268.9" rx="2.6" ry="1.4" fill="#595959"/>
<ellipse cx="715.6" cy="265.5" rx="2.1" ry="2.3" fill="#3a3a3a"/>
<ellipse cx="738.6" cy="269.1" rx="2.4" ry="2.3" fill="#555555"/>
<ellipse cx="733.0" cy="266.6" rx="1.9" ry="1.8" fill="#434343"/>
<ellipse cx="728.7" cy="264.4" rx="1.4" ry="1.8" fill="#595959"/>
<ellipse cx="741.6" cy="265.3" rx="1.5" ry="2.5" fill="#5a5a5a"/>
<ellipse cx="721.8" cy="268.5" rx="2.3" ry="2.1" fill="#343434"/>
<ellipse cx="719.0" cy="269.3" rx="2.1" ry="2.2" fill="#3b3b3b"/>
<ellipse cx="743.4" cy="270.1" rx="1.9" ry="2.4" fill="#3c3c3c"/>
<ellipse cx="730.3" cy="266.3" rx="2.6" ry="2.5" fill="#3d3d3d"/>
<ellipse cx="739.7" cy="263.0" rx="2.5" ry="2.5" fill="#4d4d4d"/>
<ellipse cx="716.5" cy="266.1" rx="1.3" ry="1.3" fill="#323232"/>
<ellipse cx="742.9" cy="267.5" rx="2.4" ry="2.6" fill="#484848"/>
<ellipse cx="742.2" cy="265.0" rx="2.1" ry="1.4" fill="#424242"/>
<ellipse cx="713.7" cy="265.4" rx="2.6" ry="2.6" fill="#505050"/>
<ellipse cx="730.2" cy="268.6" rx="1.8" ry="2.3" fill="#3c3c3c"/>
<ellipse cx="714.2" cy="265.4" rx="1.5" ry="1.5" fill="#373737"/>
<ellipse cx="736.7" cy="268.7" rx="1.5" ry="2.2" fill="#2f2f2f"/>
<ellipse cx="729.4" cy="264.1" rx="2.4" ry="1.8" fill="#363636"/>
<ellipse cx="742.7" cy="267.2" rx="1.6" ry="2.2" fill="#575757"/>
<ellipse cx="738.3" cy="270.4" rx="1.7" ry="1.5" fill="#303030"/>
<ellipse cx="744.1" cy="262.0" rx="1.7" ry="2.4" fill="#333333"/>
<ellipse cx="745.3" cy="266.9" rx="1.4" ry="2.4" fill="#4d4d4d"/>
<ellipse cx="712.4" cy="265.8" rx="2.2" ry="1.6" fill="#3d3d3d"/>
<ellipse cx="719.6" cy="260.4" rx="1.9" ry="1.8" fill="#3a3a3a"/>
<ellipse cx="738.7" cy="267.2" rx="2.4" ry="1.4" fill="#5a5a5a"/>
<ellipse cx="736.2" cy="267.2" rx="2.4" ry="1.3" fill="#4a4a4a"/>
<ellipse cx="737.9" cy="262.6" rx="2.4" ry="1.3" fill="#444444"/>
<ellipse cx="747.2" cy="266.5" rx="2.1" ry="1.9" fill="#494949"/>
<ellipse cx="725.1" cy="262.5" rx="1.6" ry="2.4" fill="#3d3d3d"/>
<ellipse cx="736.5" cy="272.6" rx="2.5" ry="2.4" fill="#575757"/>
<ellipse cx="734.6" cy="266.6" rx="1.4" ry="1.3" fill="#3c3c3c"/>
<ellipse cx="728.4" cy="265.8" rx="1.2" ry="2.0" fill="#3e3e3e"/>
<ellipse cx="725.0" cy="259.8" rx="2.3" ry="2.4" fill="#505050"/>
<ellipse cx="746.3" cy="267.8" rx="2.6" ry="1.8" fill="#525252"/>
<ellipse cx="736.0" cy="268.6" rx="1.7" ry="2.0" fill="#4b4b4b"/>
<ellipse cx="727.7" cy="262.5" rx="2.6" ry="1.5" fill="#464646"/>
<ellipse cx="718.4" cy="264.9" rx="1.5" ry="1.5" fill="#505050"/>
<ellipse cx="738.3" cy="268.4" rx="2.6" ry="2.6" fill="#464646"/>
<ellipse cx="743.3" cy="268.7" rx="2.3" ry="1.6" fill="#595959"/>
<ellipse cx="736.4" cy="260.3" rx="1.2" ry="1.7" fill="#4c4c4c"/>
<ellipse cx="722.6" cy="264.2" rx="2.3" ry="1.6" fill="#303030"/>
<ellipse cx="726.2" cy="263.8" rx="2.1" ry="1.3" fill="#555555"/>
<ellipse cx="729.6" cy="261.6" rx="1.3" ry="2.2" fill="#595959"/>
<ellipse cx="721.7" cy="270.8" rx="2.6" ry="2.4" fill="#464646"/>
<ellipse cx="737.0" cy="263.4" rx="1.9" ry="1.5" fill="#525252"/>
<ellipse cx="719.6" cy="271.1" rx="2.3" ry="1.5" fill="#323232"/>
<ellipse cx="735.8" cy="263.7" rx="2.1" ry="2.5" fill="#3b3b3b"/>
<ellipse cx="715.6" cy="267.2" rx="2.2" ry="2.0" fill="#2f2f2f"/>
<ellipse cx="727.4" cy="267.9" rx="2.5" ry="1.6" fill="#3d3d3d"/>
<ellipse cx="723.9" cy="269.3" rx="1.6" ry="2.3" fill="#474747"/>
<ellipse cx="733.5" cy="260.0" rx="2.5" ry="1.9" fill="#434343"/>
<ellipse cx="714.2" cy="276.5" rx="1.8" ry="1.8" fill="#525252"/>
<ellipse cx="713.8" cy="276.4" rx="2.2" ry="1.3" fill="#454545"/>
<ellipse cx="714.2" cy="276.3" rx="2.4" ry="2.4" fill="#545454"/>
<ellipse cx="711.6" cy="277.4" rx="1.8" ry="1.2" fill="#404040"/>
<ellipse cx="710.8" cy="280.6" rx="1.7" ry="2.3" fill="#4f4f4f"/>
<ellipse cx="712.8" cy="282.7" rx="1.7" ry="1.5" fill="#636363"/>
<ellipse cx="714.1" cy="284.2" rx="1.5" ry="1.4" fill="#454545"/>
<ellipse cx="711.7" cy="287.3" rx="1.6" ry="2.4" fill="#5d5d5d"/>
<ellipse cx="714.6" cy="287.8" rx="2.4" ry="1.7" fill="#3b3b3b"/>
<ellipse cx="714.8" cy="287.9" rx="1.2" ry="1.6" fill="#626262"/>
<ellipse cx="712.6" cy="288.7" rx="1.3" ry="1.2" fill="#5b5b5b"/>
<ellipse cx="715.3" cy="290.6" rx="1.4" ry="2.1" fill="#3e3e3e"/>
<ellipse cx="714.1" cy="291.5" rx="1.4" ry="1.5" fill="#626262"/>
<ellipse cx="715.8" cy="294.5" rx="1.4" ry="1.7" fill="#5d5d5d"/>
<ellipse cx="715.6" cy="296.0" rx="1.4" ry="1.5" fill="#5a5a5a"/>
<ellipse cx="717.3" cy="292.8" rx="1.2" ry="1.9" fill="#434343"/>
<ellipse cx="718.4" cy="295.5" rx="2.4" ry="1.8" fill="#515151"/>
<ellipse cx="718.3" cy="295.1" rx="2.3" ry="2.2" fill="#434343"/>
<ellipse cx="721.9" cy="299.2" rx="1.4" ry="2.4" fill="#5e5e5e"/>
<ellipse cx="721.7" cy="295.8" rx="1.2" ry="2.4" fill="#434343"/>
<ellipse cx="722.1" cy="299.4" rx="1.9" ry="1.5" fill="#404040"/>
<ellipse cx="722.5" cy="297.1" rx="1.9" ry="2.3" fill="#535353"/>
<ellipse cx="727.5" cy="297.3" rx="1.1" ry="1.5" fill="#4b4b4b"/>
<ellipse cx="727.4" cy="299.7" rx="1.3" ry="1.6" fill="#5f5f5f"/>
<ellipse cx="729.9" cy="300.6" rx="1.9" ry="1.3" fill="#3a3a3a"/>
<ellipse cx="732.4" cy="301.3" rx="1.2" ry="2.0" fill="#4d4d4d"/>
<ellipse cx="731.8" cy="301.0" rx="1.2" ry="1.9" fill="#585858"/>
<ellipse cx="734.8" cy="299.1" rx="2.2" ry="2.4" fill="#474747"/>
<ellipse cx="736.6" cy="299.3" rx="1.7" ry="2.2" fill="#5e5e5e"/>
<ellipse cx="736.5" cy="296.5" rx="1.9" ry="1.9" fill="#3c3c3c"/>
<ellipse cx="739.3" cy="298.2" rx="2.1" ry="1.6" fill="#585858"/>
<ellipse cx="737.9" cy="297.4" rx="1.2" ry="2.1" fill="#393939"/>
<ellipse cx="739.2" cy="294.1" rx="2.1" ry="1.8" fill="#535353"/>
<ellipse cx="739.1" cy="292.4" rx="1.5" ry="2.0" fill="#414141"/>
<ellipse cx="742.6" cy="294.2" rx="1.7" ry="2.3" fill="#464646"/>
<ellipse cx="740.1" cy="292.1" rx="2.2" ry="2.4" fill="#5e5e5e"/>
<ellipse cx="742.4" cy="290.5" rx="1.3" ry="1.8" fill="#5c5c5c"/>
<ellipse cx="743.6" cy="292.3" rx="1.5" ry="1.4" fill="#4c4c4c"/>
<ellipse cx="742.0" cy="288.8" rx="2.0" ry="1.8" fill="#464646"/>
<ellipse cx="746.0" cy="287.9" rx="1.2" ry="1.2" fill="#5e5e5e"/>
<ellipse cx="745.3" cy="285.0" rx="2.2" ry="1.2" fill="#3e3e3e"/>
<ellipse cx="742.4" cy="286.2" rx="1.4" ry="1.3" fill="#3a3a3a"/>
<ellipse cx="743.9" cy="284.1" rx="2.0" ry="2.2" fill="#626262"/>
<ellipse cx="742.4" cy="282.2" rx="1.4" ry="1.1" fill="#4c4c4c"/>
<ellipse cx="741.9" cy="280.1" rx="1.6" ry="2.1" fill="#4f4f4f"/>
<ellipse cx="744.1" cy="279.5" rx="2.2" ry="2.3" fill="#3c3c3c"/>
<ellipse cx="743.6" cy="277.1" rx="1.7" ry="2.0" fill="#606060"/>
<ellipse cx="742.5" cy="279.3" rx="2.2" ry="2.4" fill="#4c4c4c"/>
<ellipse cx="741.4" cy="262.4" rx="1.3" ry="1.1" fill="#646464"/>
<ellipse cx="742.2" cy="263.5" rx="1.9" ry="1.9" fill="#727272"/>
<ellipse cx="740.5" cy="261.9" rx="2.3" ry="1.2" fill="#797979"/>
<ellipse cx="740.3" cy="265.2" rx="2.3" ry="1.2" fill="#555555"/>
<ellipse cx="741.3" cy="264.7" rx="2.5" ry="2.4" fill="#575757"/>
<ellipse cx="739.5" cy="266.8" rx="2.0" ry="1.3" fill="#737373"/>
<ellipse cx="743.2" cy="269.3" rx="1.7" ry="1.9" fill="#696969"/>
<ellipse cx="739.4" cy="272.0" rx="2.4" ry="2.4" fill="#727272"/>
<ellipse cx="741.2" cy="272.8" rx="2.0" ry="1.3" fill="#5d5d5d"/>
<ellipse cx="742.0" cy="274.5" rx="1.8" ry="1.2" fill="#797979"/>
<ellipse cx="742.0" cy="272.6" rx="1.7" ry="1.6" fill="#777777"/>
<ellipse cx="740.1" cy="277.0" rx="1.2" ry="1.5" fill="#626262"/>
<ellipse cx="739.4" cy="276.9" rx="1.4" ry="1.5" fill="#696969"/>
<ellipse cx="741.5" cy="280.4" rx="1.4" ry="2.4" fill="#636363"/>
<ellipse cx="742.7" cy="281.2" rx="1.1" ry="1.5" fill="#777777"/>
<ellipse cx="740.1" cy="277.7" rx="1.2" ry="2.0" fill="#818181"/>
<ellipse cx="741.3" cy="278.9" rx="1.6" ry="2.2" fill="#7a7a7a"/>
<ellipse cx="739.9" cy="282.4" rx="1.8" ry="2.0" fill="#5e5e5e"/>
<ellipse cx="743.1" cy="281.6" rx="1.5" ry="2.3" fill="#5f5f5f"/>
<ellipse cx="741.1" cy="285.3" rx="2.1" ry="1.4" fill="#5f5f5f"/>
<ellipse cx="742.1" cy="286.4" rx="1.3" ry="2.3" fill="#666666"/>
<ellipse cx="741.2" cy="288.7" rx="1.9" ry="2.0" fill="#7e7e7e"/>
<ellipse cx="743.2" cy="286.9" rx="1.9" ry="2.3" fill="#787878"/>
<ellipse cx="741.6" cy="287.6" rx="2.1" ry="1.9" fill="#525252"/>
<ellipse cx="744.7" cy="290.7" rx="2.3" ry="2.3" fill="#6c6c6c"/>
<ellipse cx="742.5" cy="288.2" rx="1.6" ry="1.5" fill="#7f7f7f"/>
<ellipse cx="743.7" cy="291.8" rx="1.3" ry="1.8" fill="#747474"/>
<ellipse cx="742.6" cy="291.7" rx="1.6" ry="2.0" fill="#585858"/>
<ellipse cx="745.6" cy="295.4" rx="2.0" ry="2.4" fill="#636363"/>
<ellipse cx="745.7" cy="294.0" rx="2.0" ry="1.6" fill="#5d5d5d"/>
<ellipse cx="749.1" cy="293.7" rx="1.6" ry="1.5" fill="#5b5b5b"/>
<ellipse cx="746.4" cy="298.8" rx="1.8" ry="2.1" fill="#5a5a5a"/>
<ellipse cx="749.2" cy="298.9" rx="1.5" ry="1.7" fill="#7b7b7b"/>
<ellipse cx="748.2" cy="297.9" rx="2.1" ry="1.7" fill="#727272"/>
<ellipse cx="702.7" cy="284.4" rx="2.3" ry="1.4" fill="#393939"/>
<ellipse cx="700.7" cy="285.8" rx="1.3" ry="1.8" fill="#383838"/>
<ellipse cx="701.3" cy="287.4" rx="1.9" ry="1.1" fill="#3a3a3a"/>
<ellipse cx="702.9" cy="288.6" rx="2.2" ry="2.2" fill="#4b4b4b"/>
<ellipse cx="702.5" cy="287.6" rx="2.3" ry="1.8" fill="#4b4b4b"/>
<ellipse cx="700.9" cy="289.2" rx="1.7" ry="1.5" fill="#353535"/>
<ellipse cx="702.2" cy="293.0" rx="2.1" ry="1.9" fill="#4b4b4b"/>
<ellipse cx="701.5" cy="292.0" rx="1.4" ry="1.4" fill="#434343"/>
<ellipse cx="700.5" cy="293.9" rx="1.7" ry="1.3" fill="#424242"/>
<ellipse cx="699.5" cy="293.5" rx="1.6" ry="1.2" fill="#484848"/>
<ellipse cx="700.3" cy="296.8" rx="2.4" ry="1.2" fill="#363636"/>
<ellipse cx="702.4" cy="297.7" rx="1.3" ry="1.7" fill="#505050"/>
<ellipse cx="702.6" cy="297.2" rx="2.3" ry="1.6" fill="#4a4a4a"/>
<ellipse cx="703.5" cy="300.0" rx="2.1" ry="1.4" fill="#464646"/>
<ellipse cx="702.3" cy="300.2" rx="2.1" ry="1.6" fill="#3b3b3b"/>
<ellipse cx="703.0" cy="300.4" rx="1.4" ry="1.2" fill="#474747"/>
<ellipse cx="702.7" cy="301.3" rx="1.7" ry="1.6" fill="#343434"/>
<ellipse cx="726.6" cy="301.5" rx="1.5" ry="1.5" fill="#6d6d6d"/>
<ellipse cx="725.4" cy="301.9" rx="1.7" ry="2.2" fill="#505050"/>
<ellipse cx="727.5" cy="302.1" rx="1.5" ry="2.2" fill="#696969"/>
<ellipse cx="726.3" cy="304.5" rx="1.3" ry="2.0" fill="#505050"/>
<ellipse cx="724.7" cy="304.2" rx="2.4" ry="1.7" fill="#7a7a7a"/>
<ellipse cx="726.6" cy="307.8" rx="2.0" ry="1.3" fill="#676767"/>
<ellipse cx="725.1" cy="306.4" rx="2.3" ry="1.8" fill="#535353"/>
<ellipse cx="725.3" cy="310.2" rx="1.8" ry="1.3" fill="#717171"/>
<ellipse cx="724.7" cy="312.6" rx="1.3" ry="1.8" fill="#4f4f4f"/>
<ellipse cx="727.0" cy="313.2" rx="1.7" ry="1.8" fill="#5f5f5f"/>
<ellipse cx="725.0" cy="314.3" rx="1.4" ry="2.3" fill="#777777"/>
<ellipse cx="727.2" cy="317.3" rx="1.2" ry="2.1" fill="#787878"/>
<ellipse cx="726.0" cy="318.6" rx="2.4" ry="1.5" fill="#585858"/>
<ellipse cx="708.8" cy="317.7" rx="1.3" ry="2.5" fill="#393939"/>
<ellipse cx="713.3" cy="319.2" rx="2.5" ry="1.4" fill="#474747"/>
<ellipse cx="712.0" cy="316.7" rx="1.4" ry="2.3" fill="#5e5e5e"/>
<ellipse cx="712.6" cy="321.2" rx="1.8" ry="1.4" fill="#4c4c4c"/>
<ellipse cx="712.7" cy="320.0" rx="1.6" ry="1.9" fill="#606060"/>
<ellipse cx="715.4" cy="322.4" rx="2.5" ry="1.8" fill="#616161"/>
<ellipse cx="715.9" cy="324.5" rx="2.1" ry="2.1" fill="#454545"/>
<ellipse cx="720.8" cy="320.7" rx="1.3" ry="1.2" fill="#4c4c4c"/>
<ellipse cx="719.8" cy="323.1" rx="1.8" ry="1.4" fill="#616161"/>
<ellipse cx="719.0" cy="323.4" rx="2.2" ry="1.6" fill="#5f5f5f"/>
<ellipse cx="721.1" cy="322.7" rx="2.3" ry="2.2" fill="#4d4d4d"/>
<ellipse cx="723.2" cy="326.9" rx="2.4" ry="2.1" fill="#454545"/>
<ellipse cx="728.7" cy="323.1" rx="1.8" ry="1.8" fill="#626262"/>
<ellipse cx="730.3" cy="324.8" rx="2.2" ry="1.9" fill="#565656"/>
<ellipse cx="728.8" cy="322.3" rx="1.6" ry="2.0" fill="#494949"/>
<ellipse cx="733.0" cy="326.1" rx="1.9" ry="1.5" fill="#5c5c5c"/>
<ellipse cx="735.6" cy="326.8" rx="1.1" ry="2.0" fill="#474747"/>
<ellipse cx="734.7" cy="322.4" rx="1.5" ry="2.5" fill="#464646"/>
<ellipse cx="736.8" cy="323.0" rx="1.6" ry="1.9" fill="#565656"/>
<ellipse cx="734.6" cy="321.9" rx="2.3" ry="2.1" fill="#3d3d3d"/>
<ellipse cx="738.6" cy="322.6" rx="2.3" ry="1.3" fill="#3c3c3c"/>
<ellipse cx="740.6" cy="323.4" rx="1.8" ry="2.3" fill="#494949"/>
<ellipse cx="737.8" cy="324.4" rx="1.3" ry="2.0" fill="#5d5d5d"/>
<ellipse cx="742.1" cy="322.9" rx="2.1" ry="1.6" fill="#424242"/>
<ellipse cx="743.0" cy="320.2" rx="1.8" ry="1.8" fill="#3f3f3f"/>
<ellipse cx="745.5" cy="321.1" rx="2.3" ry="2.5" fill="#555555"/>
<ellipse cx="743.3" cy="318.9" rx="1.5" ry="2.5" fill="#3b3b3b"/>
<ellipse cx="746.3" cy="321.4" rx="1.3" ry="2.0" fill="#414141"/>
<ellipse cx="747.4" cy="320.0" rx="1.8" ry="2.3" fill="#424242"/>
<ellipse cx="748.4" cy="315.3" rx="1.7" ry="1.7" fill="#5e5e5e"/>
<ellipse cx="747.3" cy="316.7" rx="1.8" ry="1.8" fill="#4c4c4c"/>
<ellipse cx="747.2" cy="315.2" rx="2.4" ry="2.4" fill="#434343"/>
<ellipse cx="745.5" cy="313.7" rx="2.3" ry="1.4" fill="#555555"/>
<ellipse cx="749.3" cy="313.3" rx="1.2" ry="1.7" fill="#4c4c4c"/>
<ellipse cx="707.2" cy="300.3" rx="1.7" ry="1.7" fill="#555555"/>
<ellipse cx="708.3" cy="300.0" rx="1.5" ry="1.6" fill="#3e3e3e"/>
<ellipse cx="707.7" cy="303.8" rx="2.4" ry="1.5" fill="#5f5f5f"/>
<ellipse cx="709.5" cy="302.2" rx="1.7" ry="2.0" fill="#454545"/>
<ellipse cx="708.8" cy="304.2" rx="2.2" ry="1.6" fill="#4a4a4a"/>
<ellipse cx="711.6" cy="305.4" rx="1.2" ry="2.4" fill="#5c5c5c"/>
<ellipse cx="710.7" cy="306.3" rx="1.3" ry="1.5" fill="#4c4c4c"/>
<ellipse cx="712.5" cy="307.7" rx="2.3" ry="1.8" fill="#606060"/>
<ellipse cx="745.2" cy="302.2" rx="1.5" ry="2.2" fill="#575757"/>
<ellipse cx="743.1" cy="300.1" rx="1.6" ry="2.1" fill="#434343"/>
<ellipse cx="744.1" cy="304.2" rx="2.4" ry="1.7" fill="#636363"/>
<ellipse cx="746.7" cy="304.2" rx="2.1" ry="1.9" fill="#616161"/>
<ellipse cx="745.8" cy="307.9" rx="2.0" ry="1.5" fill="#3c3c3c"/>
<ellipse cx="745.9" cy="309.5" rx="1.3" ry="2.2" fill="#5b5b5b"/>
<ellipse cx="744.6" cy="308.6" rx="1.2" ry="2.1" fill="#474747"/>
<ellipse cx="746.1" cy="311.2" rx="2.3" ry="1.4" fill="#505050"/>
<ellipse cx="746.9" cy="310.9" rx="1.5" ry="2.2" fill="#414141"/>
<ellipse cx="740.6" cy="265.2" rx="2.3" ry="2.8" fill="#999999"/>
<ellipse cx="741.6" cy="273.3" rx="2.3" ry="3.2" fill="#9e9e9e"/>
<ellipse cx="712.2" cy="274.3" rx="2" ry="2" fill="#8f8f8f"/>
<ellipse cx="728.4" cy="272.3" rx="2" ry="2" fill="#8f8f8f"/>
<ellipse cx="730.4" cy="282.4" rx="2.2" ry="2.2" fill="#8f8f8f"/>
<ellipse cx="723.4" cy="290.5" rx="2.4" ry="2.2" fill="#bdbdbd"/>
<ellipse cx="714.3" cy="287.5" rx="1.8" ry="1.8" fill="#858585"/>
<ellipse cx="742.6" cy="293.6" rx="2.2" ry="2.2" fill="#949494"/>
<ellipse cx="749.7" cy="296.6" rx="2" ry="2" fill="#8a8a8a"/>
<ellipse cx="726.4" cy="311" rx="2" ry="3.2" fill="#919191"/>
<ellipse cx="726.4" cy="318" rx="1.8" ry="1.8" fill="#858585"/>
<ellipse cx="716" cy="320" rx="2.2" ry="2.2" fill="#757575"/>
<ellipse cx="732.5" cy="324" rx="2" ry="1.8" fill="#858585"/>
<ellipse cx="744" cy="317" rx="2.2" ry="2.6" fill="#707070"/>
<ellipse cx="735" cy="268" rx="1.8" ry="1.8" fill="#737373"/>
<ellipse cx="719.9" cy="395.5" rx="2.0" ry="1.2" fill="#222222"/>
<ellipse cx="725.2" cy="422.4" rx="1.8" ry="1.4" fill="#282828"/>
<ellipse cx="734.1" cy="382.6" rx="1.0" ry="2.0" fill="#2f2f2f"/>
<ellipse cx="704.9" cy="400.5" rx="2.1" ry="1.0" fill="#272727"/>
<ellipse cx="723.4" cy="418.0" rx="1.2" ry="1.3" fill="#222222"/>
<ellipse cx="702.0" cy="403.4" rx="1.9" ry="1.5" fill="#1b1b1b"/>
<ellipse cx="735.2" cy="407.2" rx="1.7" ry="1.4" fill="#373737"/>
<ellipse cx="731.0" cy="398.4" rx="1.6" ry="1.2" fill="#2a2a2a"/>
<ellipse cx="739.2" cy="404.0" rx="1.4" ry="1.9" fill="#383838"/>
<ellipse cx="737.2" cy="401.8" rx="1.6" ry="2.2" fill="#262626"/>
<ellipse cx="709.5" cy="369.7" rx="1.4" ry="2.0" fill="#2f2f2f"/>
<ellipse cx="702.5" cy="389.0" rx="1.0" ry="1.7" fill="#1e1e1e"/>
<ellipse cx="708.5" cy="401.5" rx="2.0" ry="1.7" fill="#242424"/>
<ellipse cx="731.8" cy="379.3" rx="1.0" ry="1.3" fill="#323232"/>
<ellipse cx="730.8" cy="374.6" rx="2.0" ry="2.0" fill="#232323"/>
<ellipse cx="702.7" cy="393.7" rx="2.0" ry="1.7" fill="#2d2d2d"/>
<ellipse cx="723.9" cy="380.0" rx="1.3" ry="1.4" fill="#2d2d2d"/>
<ellipse cx="732.4" cy="367.5" rx="1.5" ry="1.7" fill="#3a3a3a"/>
<ellipse cx="738.0" cy="379.7" rx="1.6" ry="2.0" fill="#222222"/>
<ellipse cx="734.6" cy="396.6" rx="1.0" ry="1.3" fill="#282828"/>
<ellipse cx="712.0" cy="376.9" rx="1.7" ry="1.6" fill="#252525"/>
<ellipse cx="715.8" cy="392.8" rx="2.1" ry="1.1" fill="#3a3a3a"/>
<ellipse cx="746.4" cy="404.0" rx="1.9" ry="1.4" fill="#3c3c3c"/>
<ellipse cx="736.6" cy="404.2" rx="1.5" ry="1.2" fill="#323232"/>
<ellipse cx="715.1" cy="395.1" rx="1.2" ry="1.1" fill="#202020"/>
<ellipse cx="747.6" cy="394.6" rx="2.0" ry="1.6" fill="#5a5a5a"/>
<ellipse cx="746.3" cy="394.6" rx="1.6" ry="1.3" fill="#454545"/>
<ellipse cx="743.1" cy="397.6" rx="1.6" ry="1.6" fill="#353535"/>
<ellipse cx="747.8" cy="399.1" rx="2.2" ry="1.3" fill="#434343"/>
<ellipse cx="743.3" cy="400.6" rx="1.8" ry="1.5" fill="#5b5b5b"/>
<ellipse cx="748.8" cy="398.0" rx="2.1" ry="1.8" fill="#4a4a4a"/>
<ellipse cx="742.4" cy="401.8" rx="1.6" ry="2.5" fill="#3d3d3d"/>
<ellipse cx="748.3" cy="401.9" rx="2.5" ry="2.2" fill="#565656"/>
<ellipse cx="745.1" cy="403.3" rx="1.6" ry="2.7" fill="#5e5e5e"/>
<ellipse cx="744.1" cy="401.6" rx="1.9" ry="2.9" fill="#464646"/>
<ellipse cx="747.6" cy="404.6" rx="2.0" ry="2.1" fill="#575757"/>
<ellipse cx="744.6" cy="405.9" rx="2.3" ry="1.5" fill="#3b3b3b"/>
<ellipse cx="746.4" cy="405.2" rx="2.2" ry="1.7" fill="#383838"/>
<ellipse cx="744.5" cy="407.1" rx="2.4" ry="2.3" fill="#5f5f5f"/>
<ellipse cx="741.5" cy="412.2" rx="2.8" ry="2.2" fill="#5e5e5e"/>
<ellipse cx="740.8" cy="407.8" rx="2.7" ry="1.5" fill="#363636"/>
<ellipse cx="743.0" cy="410.2" rx="2.6" ry="1.3" fill="#3f3f3f"/>
<ellipse cx="740.0" cy="408.8" rx="1.4" ry="1.8" fill="#5f5f5f"/>
<ellipse cx="741.8" cy="411.7" rx="1.7" ry="2.8" fill="#4c4c4c"/>
<ellipse cx="736.1" cy="410.5" rx="2.6" ry="2.5" fill="#5e5e5e"/>
<ellipse cx="738.3" cy="413.8" rx="2.6" ry="1.7" fill="#4d4d4d"/>
<ellipse cx="740.0" cy="410.5" rx="2.4" ry="2.8" fill="#343434"/>
<ellipse cx="738.5" cy="417.0" rx="2.2" ry="1.7" fill="#474747"/>
<ellipse cx="739.6" cy="412.6" rx="1.4" ry="1.4" fill="#343434"/>
<ellipse cx="733.5" cy="418.3" rx="2.3" ry="1.5" fill="#4d4d4d"/>
<ellipse cx="735.2" cy="414.3" rx="1.5" ry="1.5" fill="#454545"/>
<ellipse cx="734.9" cy="413.7" rx="2.4" ry="2.7" fill="#585858"/>
<ellipse cx="730.2" cy="417.0" rx="1.4" ry="2.5" fill="#3b3b3b"/>
<ellipse cx="731.1" cy="419.1" rx="1.8" ry="1.3" fill="#464646"/>
<ellipse cx="734.8" cy="416.7" rx="2.1" ry="2.1" fill="#616161"/>
<ellipse cx="730.3" cy="420.4" rx="2.8" ry="1.7" fill="#555555"/>
<ellipse cx="729.8" cy="416.0" rx="2.6" ry="2.8" fill="#444444"/>
<ellipse cx="732.0" cy="416.5" rx="1.4" ry="1.4" fill="#5b5b5b"/>
<ellipse cx="727.2" cy="420.3" rx="1.3" ry="2.3" fill="#484848"/>
<ellipse cx="725.9" cy="418.8" rx="1.6" ry="1.3" fill="#484848"/>
<ellipse cx="727.2" cy="421.8" rx="2.4" ry="2.0" fill="#3e3e3e"/>
<ellipse cx="724.7" cy="420.6" rx="2.8" ry="1.4" fill="#4a4a4a"/>
<ellipse cx="725.4" cy="422.3" rx="2.5" ry="2.3" fill="#585858"/>
<ellipse cx="725.5" cy="420.9" rx="2.3" ry="1.6" fill="#5f5f5f"/>
<ellipse cx="722.8" cy="421.7" rx="2.8" ry="2.8" fill="#333333"/>
<ellipse cx="719.8" cy="418.5" rx="1.5" ry="2.1" fill="#373737"/>
<ellipse cx="723.3" cy="420.7" rx="2.0" ry="1.4" fill="#616161"/>
<ellipse cx="717.3" cy="417.6" rx="2.3" ry="2.3" fill="#404040"/>
<ellipse cx="717.2" cy="416.8" rx="2.6" ry="1.5" fill="#545454"/>
<ellipse cx="718.3" cy="416.5" rx="1.9" ry="2.8" fill="#4a4a4a"/>
<ellipse cx="717.6" cy="416.1" rx="1.5" ry="1.9" fill="#404040"/>
<ellipse cx="719.1" cy="414.0" rx="2.6" ry="2.8" fill="#555555"/>
<ellipse cx="711.1" cy="417.0" rx="2.4" ry="1.6" fill="#333333"/>
<ellipse cx="710.7" cy="414.4" rx="2.0" ry="2.7" fill="#454545"/>
<ellipse cx="714.9" cy="417.4" rx="2.1" ry="1.3" fill="#3c3c3c"/>
<ellipse cx="712.5" cy="412.7" rx="2.5" ry="2.6" fill="#606060"/>
<ellipse cx="708.1" cy="414.5" rx="1.4" ry="2.7" fill="#575757"/>
<ellipse cx="708.6" cy="410.1" rx="2.6" ry="2.2" fill="#515151"/>
<ellipse cx="712.3" cy="411.4" rx="1.7" ry="1.8" fill="#424242"/>
<ellipse cx="712.3" cy="408.9" rx="1.4" ry="2.1" fill="#545454"/>
<ellipse cx="707.4" cy="408.0" rx="1.3" ry="2.0" fill="#545454"/>
<ellipse cx="706.1" cy="407.6" rx="2.7" ry="2.1" fill="#474747"/>
<ellipse cx="709.5" cy="409.7" rx="1.4" ry="2.6" fill="#3d3d3d"/>
<ellipse cx="707.2" cy="408.9" rx="1.5" ry="2.4" fill="#4b4b4b"/>
<ellipse cx="709.0" cy="409.3" rx="2.7" ry="2.3" fill="#3d3d3d"/>
<ellipse cx="709.0" cy="406.5" rx="2.7" ry="2.8" fill="#464646"/>
<ellipse cx="708.8" cy="407.5" rx="1.3" ry="1.8" fill="#515151"/>
<ellipse cx="707.2" cy="405.6" rx="1.5" ry="2.7" fill="#4d4d4d"/>
<ellipse cx="703.1" cy="407.2" rx="2.1" ry="2.5" fill="#575757"/>
<ellipse cx="703.9" cy="399.9" rx="1.9" ry="1.5" fill="#4d4d4d"/>
<ellipse cx="703.6" cy="399.4" rx="1.3" ry="1.9" fill="#4f4f4f"/>
<ellipse cx="702.1" cy="397.4" rx="2.7" ry="2.1" fill="#5e5e5e"/>
<ellipse cx="701.3" cy="397.4" rx="1.9" ry="2.3" fill="#585858"/>
<ellipse cx="704.8" cy="396.6" rx="1.9" ry="1.9" fill="#4b4b4b"/>
<ellipse cx="703.8" cy="397.1" rx="1.3" ry="2.6" fill="#4f4f4f"/>
<ellipse cx="705.2" cy="398.1" rx="2.8" ry="1.9" fill="#464646"/>
<ellipse cx="704.0" cy="395.1" rx="2.9" ry="1.6" fill="#3e3e3e"/>
<ellipse cx="705.5" cy="393.5" rx="1.3" ry="1.8" fill="#5b5b5b"/>
<ellipse cx="703.1" cy="392.0" rx="2.3" ry="2.2" fill="#555555"/>
<ellipse cx="705.1" cy="390.9" rx="1.7" ry="2.5" fill="#5a5a5a"/>
<ellipse cx="701.3" cy="393.3" rx="2.7" ry="1.4" fill="#424242"/>
<ellipse cx="701.0" cy="392.3" rx="1.7" ry="2.3" fill="#414141"/>
<ellipse cx="701.5" cy="389.0" rx="2.4" ry="1.6" fill="#545454"/>
<ellipse cx="704.8" cy="387.2" rx="1.6" ry="1.5" fill="#363636"/>
<ellipse cx="703.3" cy="384.5" rx="2.7" ry="2.3" fill="#343434"/>
<ellipse cx="704.8" cy="385.9" rx="2.1" ry="2.8" fill="#454545"/>
<ellipse cx="705.2" cy="384.4" rx="1.8" ry="2.5" fill="#525252"/>
<ellipse cx="704.6" cy="382.5" rx="2.5" ry="1.3" fill="#525252"/>
<ellipse cx="702.9" cy="384.2" rx="2.2" ry="1.4" fill="#4b4b4b"/>
<ellipse cx="707.2" cy="381.5" rx="1.8" ry="1.6" fill="#353535"/>
<ellipse cx="703.0" cy="382.7" rx="2.6" ry="1.6" fill="#383838"/>
<ellipse cx="703.1" cy="380.3" rx="2.5" ry="1.6" fill="#555555"/>
<ellipse cx="703.3" cy="378.3" rx="2.2" ry="1.4" fill="#3d3d3d"/>
<ellipse cx="708.8" cy="379.4" rx="2.3" ry="1.3" fill="#424242"/>
<ellipse cx="709.9" cy="377.4" rx="2.5" ry="1.3" fill="#4b4b4b"/>
<ellipse cx="709.3" cy="378.2" rx="1.5" ry="2.7" fill="#373737"/>
<ellipse cx="709.9" cy="378.4" rx="2.1" ry="1.5" fill="#444444"/>
<ellipse cx="709.6" cy="375.3" rx="2.5" ry="1.3" fill="#414141"/>
<ellipse cx="711.6" cy="376.3" rx="1.5" ry="1.7" fill="#383838"/>
<ellipse cx="709.8" cy="372.0" rx="1.9" ry="2.6" fill="#484848"/>
<ellipse cx="711.7" cy="373.0" rx="2.1" ry="1.8" fill="#3d3d3d"/>
<ellipse cx="710.1" cy="371.3" rx="1.6" ry="2.7" fill="#484848"/>
<ellipse cx="708.8" cy="369.8" rx="2.6" ry="1.8" fill="#535353"/>
<ellipse cx="713.9" cy="370.9" rx="2.4" ry="2.1" fill="#454545"/>
<ellipse cx="714.2" cy="373.0" rx="2.4" ry="2.0" fill="#434343"/>
<ellipse cx="716.8" cy="367.6" rx="2.3" ry="2.5" fill="#545454"/>
<ellipse cx="717.7" cy="367.8" rx="2.9" ry="1.8" fill="#454545"/>
<ellipse cx="713.6" cy="368.4" rx="2.3" ry="1.7" fill="#404040"/>
<ellipse cx="717.5" cy="370.4" rx="2.5" ry="2.7" fill="#5e5e5e"/>
<ellipse cx="720.9" cy="368.3" rx="2.4" ry="2.1" fill="#626262"/>
<ellipse cx="717.9" cy="369.1" rx="1.7" ry="1.5" fill="#464646"/>
<ellipse cx="715.8" cy="364.8" rx="2.0" ry="2.5" fill="#353535"/>
<ellipse cx="717.5" cy="367.5" rx="1.7" ry="2.0" fill="#555555"/>
<ellipse cx="720.3" cy="368.7" rx="1.4" ry="1.8" fill="#555555"/>
<ellipse cx="725.4" cy="365.3" rx="2.3" ry="1.8" fill="#555555"/>
<ellipse cx="720.4" cy="365.8" rx="2.8" ry="1.8" fill="#525252"/>
<ellipse cx="722.3" cy="368.8" rx="1.3" ry="1.8" fill="#3b3b3b"/>
<ellipse cx="722.8" cy="363.4" rx="2.5" ry="1.5" fill="#4f4f4f"/>
<ellipse cx="728.2" cy="369.2" rx="2.3" ry="1.5" fill="#585858"/>
<ellipse cx="726.2" cy="365.2" rx="1.6" ry="1.9" fill="#595959"/>
<ellipse cx="730.2" cy="368.7" rx="1.6" ry="1.8" fill="#424242"/>
<ellipse cx="732.0" cy="370.9" rx="1.4" ry="2.8" fill="#5f5f5f"/>
<ellipse cx="731.6" cy="369.6" rx="1.6" ry="2.2" fill="#636363"/>
<ellipse cx="734.1" cy="365.0" rx="2.4" ry="2.0" fill="#5f5f5f"/>
<ellipse cx="732.4" cy="365.6" rx="2.5" ry="2.4" fill="#353535"/>
<ellipse cx="730.4" cy="369.7" rx="2.3" ry="1.4" fill="#616161"/>
<ellipse cx="733.3" cy="369.7" rx="1.8" ry="2.2" fill="#464646"/>
<ellipse cx="736.3" cy="367.4" rx="1.7" ry="2.5" fill="#3e3e3e"/>
<ellipse cx="733.6" cy="370.1" rx="1.8" ry="1.7" fill="#444444"/>
<ellipse cx="734.1" cy="371.5" rx="1.3" ry="1.4" fill="#3d3d3d"/>
<ellipse cx="736.4" cy="370.4" rx="2.6" ry="2.3" fill="#4a4a4a"/>
<ellipse cx="739.4" cy="371.2" rx="2.2" ry="2.5" fill="#4d4d4d"/>
<ellipse cx="739.7" cy="376.2" rx="1.7" ry="2.3" fill="#626262"/>
<ellipse cx="742.3" cy="371.0" rx="2.4" ry="1.7" fill="#575757"/>
<ellipse cx="740.3" cy="372.8" rx="1.7" ry="2.6" fill="#525252"/>
<ellipse cx="737.9" cy="373.9" rx="2.8" ry="1.6" fill="#4d4d4d"/>
<ellipse cx="741.2" cy="376.4" rx="2.8" ry="2.5" fill="#3e3e3e"/>
<ellipse cx="741.1" cy="378.1" rx="2.3" ry="1.7" fill="#555555"/>
<ellipse cx="738.8" cy="376.1" rx="1.9" ry="1.6" fill="#535353"/>
<ellipse cx="745.6" cy="379.3" rx="2.6" ry="2.0" fill="#4f4f4f"/>
<ellipse cx="739.9" cy="378.3" rx="1.9" ry="1.8" fill="#484848"/>
<ellipse cx="747.0" cy="379.1" rx="1.5" ry="1.8" fill="#5a5a5a"/>
<ellipse cx="746.1" cy="379.5" rx="2.2" ry="2.4" fill="#545454"/>
<ellipse cx="747.2" cy="383.4" rx="2.6" ry="2.2" fill="#3b3b3b"/>
<ellipse cx="747.3" cy="384.2" rx="1.3" ry="1.5" fill="#3c3c3c"/>
<ellipse cx="746.3" cy="385.0" rx="1.9" ry="2.8" fill="#444444"/>
<ellipse cx="743.4" cy="386.4" rx="1.5" ry="1.4" fill="#434343"/>
<ellipse cx="746.9" cy="388.4" rx="2.5" ry="2.0" fill="#373737"/>
<ellipse cx="745.3" cy="390.8" rx="2.8" ry="2.1" fill="#3f3f3f"/>
<ellipse cx="746.1" cy="388.7" rx="1.4" ry="1.9" fill="#535353"/>
<ellipse cx="748.0" cy="393.6" rx="2.5" ry="1.9" fill="#525252"/>
<ellipse cx="747.7" cy="391.1" rx="2.0" ry="1.7" fill="#5a5a5a"/>
<ellipse cx="707.7" cy="403.8" rx="1.3" ry="1.6" fill="#292929"/>
<ellipse cx="706.2" cy="400.6" rx="2.1" ry="1.2" fill="#3e3e3e"/>
<ellipse cx="706.4" cy="409.3" rx="2.1" ry="1.5" fill="#474747"/>
<ellipse cx="712.2" cy="396.3" rx="1.7" ry="2.0" fill="#494949"/>
<ellipse cx="706.7" cy="399.5" rx="2.1" ry="2.4" fill="#2a2a2a"/>
<ellipse cx="705.9" cy="408.5" rx="1.6" ry="1.7" fill="#484848"/>
<ellipse cx="712.5" cy="406.9" rx="2.2" ry="2.1" fill="#454545"/>
<ellipse cx="711.4" cy="405.7" rx="1.3" ry="2.3" fill="#494949"/>
<ellipse cx="708.5" cy="406.3" rx="1.2" ry="1.8" fill="#3e3e3e"/>
<ellipse cx="707.9" cy="402.5" rx="2.2" ry="1.4" fill="#383838"/>
<ellipse cx="734.0" cy="368.8" rx="1.9" ry="2.2" fill="#484848"/>
<ellipse cx="727.3" cy="370.1" rx="2.3" ry="1.2" fill="#424242"/>
<ellipse cx="723.8" cy="371.8" rx="2.2" ry="1.4" fill="#636363"/>
<ellipse cx="727.5" cy="372.8" rx="2.3" ry="1.3" fill="#656565"/>
<ellipse cx="726.6" cy="367.1" rx="1.8" ry="1.3" fill="#5c5c5c"/>
<ellipse cx="727.8" cy="366.8" rx="1.5" ry="1.8" fill="#5e5e5e"/>
<ellipse cx="723.0" cy="366.7" rx="1.6" ry="1.3" fill="#4c4c4c"/>
<ellipse cx="733.7" cy="367.3" rx="1.6" ry="2.1" fill="#484848"/>
<ellipse cx="720.1" cy="367.7" rx="1.9" ry="2.1" fill="#5a5a5a"/>
<ellipse cx="719.2" cy="368.0" rx="1.3" ry="1.9" fill="#4e4e4e"/>
<ellipse cx="724.7" cy="370.9" rx="2.5" ry="1.4" fill="#717171"/>
<ellipse cx="725.4" cy="375.1" rx="1.4" ry="2.4" fill="#7c7c7c"/>
<ellipse cx="727.4" cy="375.6" rx="2.4" ry="2.1" fill="#6e6e6e"/>
<ellipse cx="726.2" cy="375.5" rx="1.4" ry="2.3" fill="#8a8a8a"/>
<ellipse cx="726.8" cy="378.9" rx="1.9" ry="2.1" fill="#8c8c8c"/>
<ellipse cx="727.4" cy="377.8" rx="2.2" ry="2.4" fill="#8e8e8e"/>
<ellipse cx="726.9" cy="380.3" rx="1.4" ry="1.2" fill="#888888"/>
<ellipse cx="725.7" cy="382.1" rx="1.7" ry="2.0" fill="#9c9c9c"/>
<ellipse cx="725.2" cy="383.5" rx="1.5" ry="1.9" fill="#888888"/>
<ellipse cx="726.3" cy="384.5" rx="1.2" ry="2.5" fill="#7e7e7e"/>
<ellipse cx="725.3" cy="387.1" rx="2.4" ry="1.8" fill="#818181"/>
<ellipse cx="724.4" cy="388.1" rx="1.6" ry="1.6" fill="#7e7e7e"/>
<ellipse cx="723.9" cy="389.2" rx="2.2" ry="2.0" fill="#767676"/>
<ellipse cx="723.9" cy="390.0" rx="2.2" ry="2.4" fill="#848484"/>
<ellipse cx="725.4" cy="391.5" rx="1.9" ry="2.5" fill="#939393"/>
<ellipse cx="726.2" cy="393.1" rx="1.6" ry="2.2" fill="#979797"/>
<ellipse cx="726.9" cy="392.1" rx="1.8" ry="2.0" fill="#7d7d7d"/>
<ellipse cx="726.0" cy="394.8" rx="1.5" ry="1.2" fill="#9f9f9f"/>
<ellipse cx="724.0" cy="395.2" rx="1.5" ry="2.3" fill="#757575"/>
<ellipse cx="723.8" cy="397.3" rx="1.4" ry="1.6" fill="#929292"/>
<ellipse cx="726.4" cy="396.9" rx="1.6" ry="2.3" fill="#6d6d6d"/>
<ellipse cx="725.1" cy="399.3" rx="2.1" ry="2.1" fill="#848484"/>
<ellipse cx="724.2" cy="400.1" rx="1.2" ry="2.0" fill="#747474"/>
<ellipse cx="725.6" cy="400.5" rx="1.8" ry="1.9" fill="#6d6d6d"/>
<ellipse cx="723.4" cy="404.2" rx="1.1" ry="2.0" fill="#a0a0a0"/>
<ellipse cx="724.1" cy="404.6" rx="1.3" ry="1.6" fill="#999999"/>
<ellipse cx="723.3" cy="405.2" rx="2.0" ry="1.4" fill="#969696"/>
<ellipse cx="725.2" cy="406.3" rx="2.3" ry="1.8" fill="#757575"/>
<ellipse cx="723.8" cy="409.2" rx="1.8" ry="2.1" fill="#979797"/>
<ellipse cx="723.9" cy="408.8" rx="2.3" ry="2.1" fill="#808080"/>
<ellipse cx="723.9" cy="409.1" rx="1.2" ry="1.6" fill="#787878"/>
<ellipse cx="726.5" cy="410.3" rx="1.9" ry="2.3" fill="#8b8b8b"/>
<ellipse cx="725.8" cy="411.0" rx="2.4" ry="2.0" fill="#969696"/>
<ellipse cx="723.5" cy="412.4" rx="1.4" ry="1.8" fill="#9d9d9d"/>
<ellipse cx="724.5" cy="415.5" rx="2.1" ry="1.6" fill="#9f9f9f"/>
<ellipse cx="725.6" cy="417.6" rx="2.2" ry="2.0" fill="#7c7c7c"/>
<ellipse cx="723.9" cy="415.9" rx="2.4" ry="1.5" fill="#6c6c6c"/>
<ellipse cx="732.5" cy="369.4" rx="2.2" ry="2.2" fill="#9e9e9e"/>
<ellipse cx="725.3" cy="395" rx="2" ry="4.5" fill="#a3a3a3"/>
<ellipse cx="724.6" cy="413" rx="2.4" ry="4.5" fill="#adadad"/>
<ellipse cx="741.5" cy="382" rx="2.6" ry="4.2" fill="#adadad"/>
<ellipse cx="738.8" cy="412.6" rx="2" ry="2" fill="#999999"/>
<ellipse cx="743.3" cy="409" rx="2" ry="2" fill="#919191"/>
<ellipse cx="709" cy="387.4" rx="2.2" ry="1.8" fill="#999999"/>
<ellipse cx="703.7" cy="398.2" rx="1.6" ry="2" fill="#8a8a8a"/>
<ellipse cx="744" cy="396" rx="1.8" ry="2.3" fill="#787878"/>
<ellipse cx="704.6" cy="423.4" rx="1.5" ry="1.2" fill="#2e2e2e"/>
<ellipse cx="734.3" cy="427.9" rx="1.8" ry="1.2" fill="#2e2e2e"/>
<ellipse cx="702" cy="385" rx="1.8" ry="2.6" fill="#6b6b6b"/>
<ellipse cx="712" cy="414" rx="1.8" ry="1.8" fill="#707070"/>
</g>

<defs>
<linearGradient id="cbar" x1="0" y1="0" x2="0" y2="1">
<stop offset="0" stop-color="#ff2010"/>
<stop offset="0.13" stop-color="#ff5000"/>
<stop offset="0.24" stop-color="#ffa000"/>
<stop offset="0.345" stop-color="#ffff00"/>
<stop offset="0.45" stop-color="#c8ff00"/>
<stop offset="0.52" stop-color="#50f000"/>
<stop offset="0.59" stop-color="#10e010"/>
<stop offset="0.66" stop-color="#00a060"/>
<stop offset="0.71" stop-color="#0040ff"/>
<stop offset="0.76" stop-color="#1030f0"/>
<stop offset="0.83" stop-color="#3010a0"/>
<stop offset="0.9" stop-color="#200050"/>
<stop offset="1" stop-color="#0a0010"/>
</linearGradient>
</defs>
<rect x="437" y="168.5" width="8.6" height="104.6" fill="url(#cbar)" stroke="#cfcfcf" stroke-width="1"/>
<rect x="674.7" y="170.2" width="8.8" height="103.2" fill="url(#cbar)" stroke="#cfcfcf" stroke-width="1"/>
<g stroke="#999" stroke-width="0.8">
<line x1="434.6" y1="182.4" x2="436.6" y2="182.4"/>
<line x1="434.6" y1="202.6" x2="436.6" y2="202.6"/>
<line x1="434.6" y1="222.2" x2="436.6" y2="222.2"/>
<line x1="434.6" y1="242.4" x2="436.6" y2="242.4"/>
<line x1="434.6" y1="261.8" x2="436.6" y2="261.8"/>
<line x1="672.2" y1="179.9" x2="674.2" y2="179.9"/>
<line x1="672.2" y1="199.2" x2="674.2" y2="199.2"/>
<line x1="672.2" y1="218.3" x2="674.2" y2="218.3"/>
<line x1="672.2" y1="237.3" x2="674.2" y2="237.3"/>
<line x1="672.2" y1="256.6" x2="674.2" y2="256.6"/>
<line x1="672.2" y1="275.2" x2="674.2" y2="275.2"/>
</g>
<g font-size="7.5" fill="#d8d8d8" text-anchor="end">
<text x="432" y="185">50.0</text>
<text x="432" y="205.2">40.0</text>
<text x="432" y="224.8">30.0</text>
<text x="432" y="245">20.0</text>
<text x="432" y="264.4">10.0</text>
<text x="669.6" y="182.5">12.0</text>
<text x="669.6" y="201.8">10.0</text>
<text x="669.6" y="220.9">8.0</text>
<text x="669.6" y="239.9">6.0</text>
<text x="669.6" y="259.2">4.0</text>
<text x="669.6" y="277.8">2.0</text>
</g>
<g font-size="7.5" fill="#d8d8d8">
<text transform="translate(411.4 256.2) rotate(-90)" textLength="61" lengthAdjust="spacingAndGlyphs">[µmol/mi&lt;n/100g]</text>
<text transform="translate(650.8 255.4) rotate(-90)" textLength="57" lengthAdjust="spacingAndGlyphs">[µmol/min/100g]</text>
</g>

<g font-size="17" fill="#e8e8e8" stroke="#e8e8e8" stroke-width="0.1">
<text x="478.6" y="33.8" transform="translate(478.6 0) scale(0.87 1) translate(-478.6 0)">pre</text>
<text x="569.4" y="33.8" transform="translate(569.4 0) scale(0.88 1) translate(-569.4 0)">post</text>
<text x="698.3" y="33.8" transform="translate(698.3 0) scale(0.875 1) translate(-698.3 0)">post-pre</text>
</g>

</svg>
</body></html>
